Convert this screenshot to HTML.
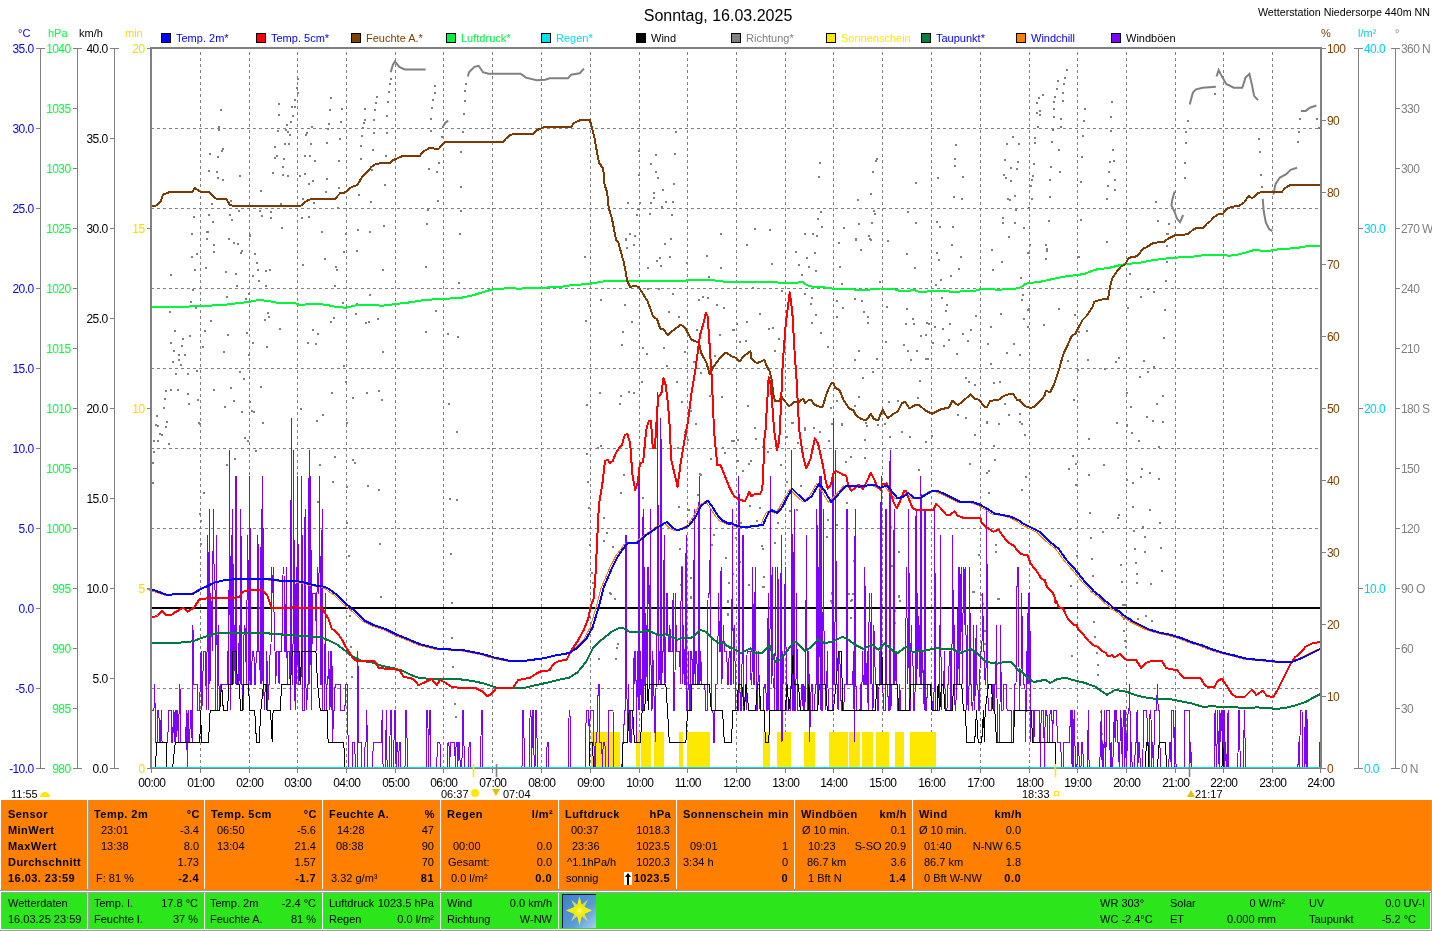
<!DOCTYPE html>
<html><head><meta charset="utf-8"><title>Wetterstation Niedersorpe</title>
<style>
html,body{margin:0;padding:0;background:#fff;}
body{width:1432px;height:931px;position:relative;overflow:hidden;}
svg text{white-space:pre;}
</style></head><body>
<svg width="1432" height="800" viewBox="0 0 1432 800" style="position:absolute;left:0;top:0">
<g font-family="'Liberation Sans', Arial, sans-serif" font-size="11">
<g stroke="#808080" stroke-width="1" stroke-dasharray="3,3" shape-rendering="crispEdges" fill="none">
<line x1="200.5" y1="52" x2="200.5" y2="767"/>
<line x1="249.5" y1="52" x2="249.5" y2="767"/>
<line x1="297.5" y1="52" x2="297.5" y2="767"/>
<line x1="346.5" y1="52" x2="346.5" y2="767"/>
<line x1="395.5" y1="52" x2="395.5" y2="767"/>
<line x1="443.5" y1="52" x2="443.5" y2="767"/>
<line x1="492.5" y1="52" x2="492.5" y2="767"/>
<line x1="541.5" y1="52" x2="541.5" y2="767"/>
<line x1="590.5" y1="52" x2="590.5" y2="767"/>
<line x1="639.5" y1="52" x2="639.5" y2="767"/>
<line x1="687.5" y1="52" x2="687.5" y2="767"/>
<line x1="736.5" y1="52" x2="736.5" y2="767"/>
<line x1="785.5" y1="52" x2="785.5" y2="767"/>
<line x1="833.5" y1="52" x2="833.5" y2="767"/>
<line x1="882.5" y1="52" x2="882.5" y2="767"/>
<line x1="931.5" y1="52" x2="931.5" y2="767"/>
<line x1="980.5" y1="52" x2="980.5" y2="767"/>
<line x1="1029.5" y1="52" x2="1029.5" y2="767"/>
<line x1="1077.5" y1="52" x2="1077.5" y2="767"/>
<line x1="1126.5" y1="52" x2="1126.5" y2="767"/>
<line x1="1175.5" y1="52" x2="1175.5" y2="767"/>
<line x1="1223.5" y1="52" x2="1223.5" y2="767"/>
<line x1="1272.5" y1="52" x2="1272.5" y2="767"/>
<line x1="151" y1="128.5" x2="1320" y2="128.5"/>
<line x1="151" y1="208.5" x2="1320" y2="208.5"/>
<line x1="151" y1="288.5" x2="1320" y2="288.5"/>
<line x1="151" y1="368.5" x2="1320" y2="368.5"/>
<line x1="151" y1="448.5" x2="1320" y2="448.5"/>
<line x1="151" y1="528.5" x2="1320" y2="528.5"/>
<line x1="151" y1="688.5" x2="1320" y2="688.5"/>
</g>
<line x1="152" y1="608" x2="1320" y2="608" stroke="#000" stroke-width="2" shape-rendering="crispEdges"/>
<rect x="591" y="732" width="29" height="35" fill="#FFE800"/>
<rect x="636" y="732" width="4" height="35" fill="#FFE800"/>
<rect x="641" y="732" width="10" height="35" fill="#FFE800"/>
<rect x="654" y="732" width="10" height="35" fill="#FFE800"/>
<rect x="679" y="732" width="4" height="35" fill="#FFE800"/>
<rect x="687" y="732" width="23" height="35" fill="#FFE800"/>
<rect x="763" y="732" width="7" height="35" fill="#FFE800"/>
<rect x="777" y="732" width="14" height="35" fill="#FFE800"/>
<rect x="804" y="732" width="11" height="35" fill="#FFE800"/>
<rect x="829" y="732" width="19" height="35" fill="#FFE800"/>
<rect x="849" y="732" width="11" height="35" fill="#FFE800"/>
<rect x="862" y="732" width="11" height="35" fill="#FFE800"/>
<rect x="876" y="732" width="13" height="35" fill="#FFE800"/>
<rect x="895" y="732" width="9" height="35" fill="#FFE800"/>
<rect x="910" y="732" width="26" height="35" fill="#FFE800"/>
<rect x="1045" y="732" width="1" height="35" fill="#FFE800"/>
<g fill="#808080">
<rect x="152" y="462" width="2" height="2"/><rect x="152" y="482" width="2" height="2"/><rect x="153" y="440" width="2" height="2"/><rect x="153" y="451" width="2" height="2"/><rect x="155" y="424" width="2" height="2"/><rect x="156" y="415" width="2" height="2"/><rect x="157" y="425" width="2" height="2"/><rect x="157" y="440" width="2" height="2"/><rect x="159" y="433" width="2" height="2"/><rect x="161" y="434" width="2" height="2"/><rect x="163" y="407" width="2" height="2"/><rect x="164" y="398" width="2" height="2"/><rect x="165" y="390" width="2" height="2"/><rect x="165" y="426" width="2" height="2"/><rect x="166" y="421" width="2" height="2"/><rect x="168" y="443" width="2" height="2"/><rect x="169" y="311" width="2" height="2"/><rect x="170" y="274" width="2" height="2"/><rect x="170" y="342" width="2" height="2"/><rect x="170" y="389" width="2" height="2"/><rect x="172" y="361" width="2" height="2"/><rect x="173" y="350" width="2" height="2"/><rect x="174" y="330" width="2" height="2"/><rect x="175" y="373" width="2" height="2"/><rect x="177" y="389" width="2" height="2"/><rect x="178" y="354" width="2" height="2"/><rect x="178" y="359" width="2" height="2"/><rect x="180" y="364" width="2" height="2"/><rect x="181" y="345" width="2" height="2"/><rect x="182" y="338" width="2" height="2"/><rect x="184" y="354" width="2" height="2"/><rect x="187" y="373" width="2" height="2"/><rect x="187" y="393" width="2" height="2"/><rect x="188" y="403" width="2" height="2"/><rect x="189" y="335" width="2" height="2"/><rect x="190" y="301" width="2" height="2"/><rect x="191" y="233" width="2" height="2"/><rect x="191" y="256" width="2" height="2"/><rect x="192" y="289" width="2" height="2"/><rect x="193" y="216" width="2" height="2"/><rect x="194" y="269" width="2" height="2"/><rect x="195" y="307" width="2" height="2"/><rect x="196" y="253" width="2" height="2"/><rect x="196" y="370" width="2" height="2"/><rect x="197" y="399" width="2" height="2"/><rect x="198" y="422" width="2" height="2"/><rect x="199" y="423" width="2" height="2"/><rect x="199" y="513" width="2" height="2"/><rect x="200" y="520" width="2" height="2"/><rect x="200" y="543" width="2" height="2"/><rect x="202" y="346" width="2" height="2"/><rect x="203" y="492" width="2" height="2"/><rect x="204" y="330" width="2" height="2"/><rect x="205" y="267" width="2" height="2"/><rect x="206" y="231" width="2" height="2"/><rect x="206" y="238" width="2" height="2"/><rect x="207" y="231" width="2" height="2"/><rect x="208" y="170" width="2" height="2"/><rect x="208" y="214" width="2" height="2"/><rect x="209" y="153" width="2" height="2"/><rect x="210" y="320" width="2" height="2"/><rect x="211" y="203" width="2" height="2"/><rect x="212" y="221" width="2" height="2"/><rect x="213" y="244" width="2" height="2"/><rect x="213" y="251" width="2" height="2"/><rect x="213" y="389" width="2" height="2"/><rect x="216" y="171" width="2" height="2"/><rect x="217" y="156" width="2" height="2"/><rect x="217" y="177" width="2" height="2"/><rect x="218" y="126" width="2" height="2"/><rect x="218" y="129" width="2" height="2"/><rect x="220" y="109" width="2" height="2"/><rect x="221" y="150" width="2" height="2"/><rect x="222" y="148" width="2" height="2"/><rect x="222" y="179" width="2" height="2"/><rect x="223" y="351" width="2" height="2"/><rect x="224" y="406" width="2" height="2"/><rect x="225" y="271" width="2" height="2"/><rect x="226" y="296" width="2" height="2"/><rect x="226" y="464" width="2" height="2"/><rect x="227" y="334" width="2" height="2"/><rect x="228" y="238" width="2" height="2"/><rect x="229" y="214" width="2" height="2"/><rect x="230" y="200" width="2" height="2"/><rect x="230" y="387" width="2" height="2"/><rect x="231" y="219" width="2" height="2"/><rect x="233" y="242" width="2" height="2"/><rect x="233" y="400" width="2" height="2"/><rect x="234" y="458" width="2" height="2"/><rect x="235" y="273" width="2" height="2"/><rect x="236" y="285" width="2" height="2"/><rect x="237" y="243" width="2" height="2"/><rect x="238" y="210" width="2" height="2"/><rect x="239" y="175" width="2" height="2"/><rect x="239" y="371" width="2" height="2"/><rect x="240" y="252" width="2" height="2"/><rect x="241" y="250" width="2" height="2"/><rect x="241" y="411" width="2" height="2"/><rect x="243" y="378" width="2" height="2"/><rect x="244" y="437" width="2" height="2"/><rect x="245" y="298" width="2" height="2"/><rect x="246" y="332" width="2" height="2"/><rect x="247" y="440" width="2" height="2"/><rect x="248" y="293" width="2" height="2"/><rect x="248" y="354" width="2" height="2"/><rect x="249" y="234" width="2" height="2"/><rect x="249" y="235" width="2" height="2"/><rect x="249" y="401" width="2" height="2"/><rect x="251" y="410" width="2" height="2"/><rect x="252" y="275" width="2" height="2"/><rect x="252" y="342" width="2" height="2"/><rect x="253" y="411" width="2" height="2"/><rect x="254" y="253" width="2" height="2"/><rect x="255" y="450" width="2" height="2"/><rect x="256" y="262" width="2" height="2"/><rect x="257" y="269" width="2" height="2"/><rect x="258" y="280" width="2" height="2"/><rect x="259" y="210" width="2" height="2"/><rect x="260" y="190" width="2" height="2"/><rect x="260" y="386" width="2" height="2"/><rect x="261" y="215" width="2" height="2"/><rect x="262" y="422" width="2" height="2"/><rect x="264" y="319" width="2" height="2"/><rect x="265" y="270" width="2" height="2"/><rect x="265" y="285" width="2" height="2"/><rect x="266" y="346" width="2" height="2"/><rect x="267" y="312" width="2" height="2"/><rect x="268" y="316" width="2" height="2"/><rect x="269" y="269" width="2" height="2"/><rect x="270" y="211" width="2" height="2"/><rect x="270" y="217" width="2" height="2"/><rect x="272" y="172" width="2" height="2"/><rect x="274" y="146" width="2" height="2"/><rect x="274" y="157" width="2" height="2"/><rect x="276" y="155" width="2" height="2"/><rect x="277" y="130" width="2" height="2"/><rect x="278" y="103" width="2" height="2"/><rect x="278" y="114" width="2" height="2"/><rect x="279" y="328" width="2" height="2"/><rect x="280" y="203" width="2" height="2"/><rect x="281" y="227" width="2" height="2"/><rect x="282" y="166" width="2" height="2"/><rect x="282" y="174" width="2" height="2"/><rect x="283" y="158" width="2" height="2"/><rect x="284" y="143" width="2" height="2"/><rect x="285" y="129" width="2" height="2"/><rect x="286" y="124" width="2" height="2"/><rect x="287" y="131" width="2" height="2"/><rect x="287" y="175" width="2" height="2"/><rect x="288" y="143" width="2" height="2"/><rect x="289" y="134" width="2" height="2"/><rect x="290" y="121" width="2" height="2"/><rect x="291" y="106" width="2" height="2"/><rect x="292" y="115" width="2" height="2"/><rect x="294" y="99" width="2" height="2"/><rect x="294" y="106" width="2" height="2"/><rect x="296" y="87" width="2" height="2"/><rect x="297" y="78" width="2" height="2"/><rect x="297" y="92" width="2" height="2"/><rect x="299" y="175" width="2" height="2"/><rect x="300" y="408" width="2" height="2"/><rect x="301" y="217" width="2" height="2"/><rect x="302" y="198" width="2" height="2"/><rect x="302" y="264" width="2" height="2"/><rect x="304" y="155" width="2" height="2"/><rect x="304" y="173" width="2" height="2"/><rect x="305" y="134" width="2" height="2"/><rect x="306" y="132" width="2" height="2"/><rect x="307" y="342" width="2" height="2"/><rect x="308" y="183" width="2" height="2"/><rect x="308" y="216" width="2" height="2"/><rect x="309" y="155" width="2" height="2"/><rect x="310" y="143" width="2" height="2"/><rect x="311" y="126" width="2" height="2"/><rect x="312" y="180" width="2" height="2"/><rect x="312" y="329" width="2" height="2"/><rect x="313" y="202" width="2" height="2"/><rect x="314" y="160" width="2" height="2"/><rect x="315" y="343" width="2" height="2"/><rect x="316" y="420" width="2" height="2"/><rect x="317" y="333" width="2" height="2"/><rect x="317" y="501" width="2" height="2"/><rect x="319" y="464" width="2" height="2"/><rect x="321" y="231" width="2" height="2"/><rect x="321" y="303" width="2" height="2"/><rect x="322" y="414" width="2" height="2"/><rect x="324" y="258" width="2" height="2"/><rect x="325" y="191" width="2" height="2"/><rect x="326" y="142" width="2" height="2"/><rect x="326" y="178" width="2" height="2"/><rect x="327" y="128" width="2" height="2"/><rect x="328" y="123" width="2" height="2"/><rect x="329" y="109" width="2" height="2"/><rect x="330" y="97" width="2" height="2"/><rect x="330" y="321" width="2" height="2"/><rect x="331" y="392" width="2" height="2"/><rect x="332" y="481" width="2" height="2"/><rect x="333" y="317" width="2" height="2"/><rect x="334" y="285" width="2" height="2"/><rect x="334" y="456" width="2" height="2"/><rect x="335" y="266" width="2" height="2"/><rect x="336" y="269" width="2" height="2"/><rect x="337" y="207" width="2" height="2"/><rect x="338" y="160" width="2" height="2"/><rect x="338" y="187" width="2" height="2"/><rect x="339" y="138" width="2" height="2"/><rect x="340" y="121" width="2" height="2"/><rect x="341" y="108" width="2" height="2"/><rect x="342" y="302" width="2" height="2"/><rect x="343" y="251" width="2" height="2"/><rect x="343" y="365" width="2" height="2"/><rect x="345" y="233" width="2" height="2"/><rect x="345" y="381" width="2" height="2"/><rect x="346" y="422" width="2" height="2"/><rect x="346" y="486" width="2" height="2"/><rect x="346" y="522" width="2" height="2"/><rect x="348" y="555" width="2" height="2"/><rect x="349" y="615" width="2" height="2"/><rect x="350" y="646" width="2" height="2"/><rect x="351" y="676" width="2" height="2"/><rect x="352" y="397" width="2" height="2"/><rect x="352" y="459" width="2" height="2"/><rect x="354" y="462" width="2" height="2"/><rect x="355" y="313" width="2" height="2"/><rect x="356" y="250" width="2" height="2"/><rect x="356" y="303" width="2" height="2"/><rect x="357" y="229" width="2" height="2"/><rect x="358" y="194" width="2" height="2"/><rect x="360" y="145" width="2" height="2"/><rect x="360" y="158" width="2" height="2"/><rect x="361" y="135" width="2" height="2"/><rect x="362" y="127" width="2" height="2"/><rect x="363" y="122" width="2" height="2"/><rect x="364" y="108" width="2" height="2"/><rect x="364" y="119" width="2" height="2"/><rect x="365" y="322" width="2" height="2"/><rect x="366" y="392" width="2" height="2"/><rect x="367" y="485" width="2" height="2"/><rect x="368" y="321" width="2" height="2"/><rect x="369" y="231" width="2" height="2"/><rect x="369" y="294" width="2" height="2"/><rect x="370" y="201" width="2" height="2"/><rect x="371" y="169" width="2" height="2"/><rect x="372" y="149" width="2" height="2"/><rect x="373" y="119" width="2" height="2"/><rect x="373" y="132" width="2" height="2"/><rect x="374" y="109" width="2" height="2"/><rect x="375" y="102" width="2" height="2"/><rect x="376" y="96" width="2" height="2"/><rect x="377" y="318" width="2" height="2"/><rect x="378" y="390" width="2" height="2"/><rect x="378" y="489" width="2" height="2"/><rect x="379" y="543" width="2" height="2"/><rect x="380" y="596" width="2" height="2"/><rect x="381" y="399" width="2" height="2"/><rect x="382" y="269" width="2" height="2"/><rect x="382" y="351" width="2" height="2"/><rect x="383" y="225" width="2" height="2"/><rect x="384" y="184" width="2" height="2"/><rect x="385" y="155" width="2" height="2"/><rect x="386" y="115" width="2" height="2"/><rect x="386" y="132" width="2" height="2"/><rect x="387" y="101" width="2" height="2"/><rect x="388" y="91" width="2" height="2"/><rect x="389" y="83" width="2" height="2"/><rect x="390" y="78" width="2" height="2"/><rect x="425" y="266" width="2" height="2"/><rect x="425" y="331" width="2" height="2"/><rect x="426" y="223" width="2" height="2"/><rect x="427" y="209" width="2" height="2"/><rect x="428" y="168" width="2" height="2"/><rect x="430" y="118" width="2" height="2"/><rect x="430" y="130" width="2" height="2"/><rect x="431" y="107" width="2" height="2"/><rect x="432" y="99" width="2" height="2"/><rect x="434" y="85" width="2" height="2"/><rect x="434" y="92" width="2" height="2"/><rect x="435" y="310" width="2" height="2"/><rect x="436" y="171" width="2" height="2"/><rect x="437" y="200" width="2" height="2"/><rect x="438" y="162" width="2" height="2"/><rect x="441" y="136" width="2" height="2"/><rect x="442" y="126" width="2" height="2"/><rect x="447" y="333" width="2" height="2"/><rect x="448" y="403" width="2" height="2"/><rect x="449" y="498" width="2" height="2"/><rect x="450" y="553" width="2" height="2"/><rect x="451" y="602" width="2" height="2"/><rect x="451" y="637" width="2" height="2"/><rect x="452" y="666" width="2" height="2"/><rect x="454" y="703" width="2" height="2"/><rect x="455" y="716" width="2" height="2"/><rect x="456" y="431" width="2" height="2"/><rect x="456" y="499" width="2" height="2"/><rect x="457" y="336" width="2" height="2"/><rect x="458" y="282" width="2" height="2"/><rect x="459" y="233" width="2" height="2"/><rect x="460" y="151" width="2" height="2"/><rect x="460" y="186" width="2" height="2"/><rect x="460" y="210" width="2" height="2"/><rect x="462" y="131" width="2" height="2"/><rect x="463" y="113" width="2" height="2"/><rect x="464" y="90" width="2" height="2"/><rect x="464" y="100" width="2" height="2"/><rect x="465" y="83" width="2" height="2"/><rect x="584" y="256" width="2" height="2"/><rect x="585" y="320" width="2" height="2"/><rect x="586" y="404" width="2" height="2"/><rect x="586" y="453" width="2" height="2"/><rect x="587" y="481" width="2" height="2"/><rect x="588" y="507" width="2" height="2"/><rect x="589" y="544" width="2" height="2"/><rect x="591" y="572" width="2" height="2"/><rect x="592" y="582" width="2" height="2"/><rect x="597" y="447" width="2" height="2"/><rect x="598" y="658" width="2" height="2"/><rect x="599" y="392" width="2" height="2"/><rect x="600" y="299" width="2" height="2"/><rect x="600" y="445" width="2" height="2"/><rect x="603" y="517" width="2" height="2"/><rect x="603" y="540" width="2" height="2"/><rect x="606" y="532" width="2" height="2"/><rect x="609" y="592" width="2" height="2"/><rect x="610" y="593" width="2" height="2"/><rect x="612" y="546" width="2" height="2"/><rect x="614" y="598" width="2" height="2"/><rect x="615" y="658" width="2" height="2"/><rect x="616" y="647" width="2" height="2"/><rect x="617" y="643" width="2" height="2"/><rect x="619" y="403" width="2" height="2"/><rect x="620" y="395" width="2" height="2"/><rect x="620" y="492" width="2" height="2"/><rect x="621" y="344" width="2" height="2"/><rect x="622" y="331" width="2" height="2"/><rect x="623" y="474" width="2" height="2"/><rect x="624" y="304" width="2" height="2"/><rect x="625" y="238" width="2" height="2"/><rect x="625" y="239" width="2" height="2"/><rect x="626" y="247" width="2" height="2"/><rect x="627" y="202" width="2" height="2"/><rect x="628" y="391" width="2" height="2"/><rect x="629" y="233" width="2" height="2"/><rect x="631" y="321" width="2" height="2"/><rect x="633" y="244" width="2" height="2"/><rect x="633" y="392" width="2" height="2"/><rect x="634" y="235" width="2" height="2"/><rect x="636" y="214" width="2" height="2"/><rect x="637" y="208" width="2" height="2"/><rect x="638" y="150" width="2" height="2"/><rect x="638" y="174" width="2" height="2"/><rect x="639" y="202" width="2" height="2"/><rect x="641" y="381" width="2" height="2"/><rect x="642" y="347" width="2" height="2"/><rect x="642" y="497" width="2" height="2"/><rect x="646" y="353" width="2" height="2"/><rect x="647" y="267" width="2" height="2"/><rect x="647" y="288" width="2" height="2"/><rect x="649" y="213" width="2" height="2"/><rect x="650" y="163" width="2" height="2"/><rect x="650" y="202" width="2" height="2"/><rect x="653" y="192" width="2" height="2"/><rect x="653" y="197" width="2" height="2"/><rect x="655" y="154" width="2" height="2"/><rect x="655" y="171" width="2" height="2"/><rect x="656" y="260" width="2" height="2"/><rect x="657" y="177" width="2" height="2"/><rect x="658" y="288" width="2" height="2"/><rect x="659" y="257" width="2" height="2"/><rect x="660" y="265" width="2" height="2"/><rect x="661" y="206" width="2" height="2"/><rect x="662" y="189" width="2" height="2"/><rect x="663" y="347" width="2" height="2"/><rect x="664" y="243" width="2" height="2"/><rect x="665" y="201" width="2" height="2"/><rect x="666" y="365" width="2" height="2"/><rect x="668" y="311" width="2" height="2"/><rect x="669" y="256" width="2" height="2"/><rect x="670" y="238" width="2" height="2"/><rect x="671" y="214" width="2" height="2"/><rect x="672" y="201" width="2" height="2"/><rect x="672" y="293" width="2" height="2"/><rect x="673" y="183" width="2" height="2"/><rect x="674" y="153" width="2" height="2"/><rect x="675" y="131" width="2" height="2"/><rect x="676" y="381" width="2" height="2"/><rect x="677" y="447" width="2" height="2"/><rect x="678" y="316" width="2" height="2"/><rect x="678" y="506" width="2" height="2"/><rect x="679" y="548" width="2" height="2"/><rect x="680" y="584" width="2" height="2"/><rect x="681" y="401" width="2" height="2"/><rect x="681" y="566" width="2" height="2"/><rect x="684" y="351" width="2" height="2"/><rect x="684" y="431" width="2" height="2"/><rect x="685" y="435" width="2" height="2"/><rect x="686" y="262" width="2" height="2"/><rect x="687" y="439" width="2" height="2"/><rect x="688" y="509" width="2" height="2"/><rect x="690" y="410" width="2" height="2"/><rect x="690" y="577" width="2" height="2"/><rect x="690" y="596" width="2" height="2"/><rect x="690" y="597" width="2" height="2"/><rect x="693" y="361" width="2" height="2"/><rect x="695" y="423" width="2" height="2"/><rect x="696" y="329" width="2" height="2"/><rect x="697" y="494" width="2" height="2"/><rect x="698" y="299" width="2" height="2"/><rect x="699" y="473" width="2" height="2"/><rect x="700" y="372" width="2" height="2"/><rect x="700" y="474" width="2" height="2"/><rect x="702" y="296" width="2" height="2"/><rect x="706" y="255" width="2" height="2"/><rect x="707" y="297" width="2" height="2"/><rect x="708" y="276" width="2" height="2"/><rect x="709" y="395" width="2" height="2"/><rect x="710" y="458" width="2" height="2"/><rect x="711" y="544" width="2" height="2"/><rect x="713" y="534" width="2" height="2"/><rect x="714" y="355" width="2" height="2"/><rect x="716" y="304" width="2" height="2"/><rect x="719" y="334" width="2" height="2"/><rect x="720" y="233" width="2" height="2"/><rect x="720" y="267" width="2" height="2"/><rect x="721" y="396" width="2" height="2"/><rect x="722" y="447" width="2" height="2"/><rect x="723" y="307" width="2" height="2"/><rect x="724" y="452" width="2" height="2"/><rect x="725" y="557" width="2" height="2"/><rect x="727" y="600" width="2" height="2"/><rect x="727" y="601" width="2" height="2"/><rect x="727" y="613" width="2" height="2"/><rect x="727" y="614" width="2" height="2"/><rect x="728" y="582" width="2" height="2"/><rect x="731" y="440" width="2" height="2"/><rect x="732" y="329" width="2" height="2"/><rect x="732" y="440" width="2" height="2"/><rect x="732" y="573" width="2" height="2"/><rect x="733" y="329" width="2" height="2"/><rect x="733" y="440" width="2" height="2"/><rect x="735" y="537" width="2" height="2"/><rect x="736" y="323" width="2" height="2"/><rect x="737" y="439" width="2" height="2"/><rect x="737" y="460" width="2" height="2"/><rect x="739" y="341" width="2" height="2"/><rect x="739" y="561" width="2" height="2"/><rect x="740" y="522" width="2" height="2"/><rect x="742" y="470" width="2" height="2"/><rect x="745" y="340" width="2" height="2"/><rect x="746" y="244" width="2" height="2"/><rect x="746" y="321" width="2" height="2"/><rect x="747" y="405" width="2" height="2"/><rect x="748" y="463" width="2" height="2"/><rect x="748" y="584" width="2" height="2"/><rect x="749" y="505" width="2" height="2"/><rect x="750" y="460" width="2" height="2"/><rect x="752" y="287" width="2" height="2"/><rect x="754" y="228" width="2" height="2"/><rect x="754" y="427" width="2" height="2"/><rect x="755" y="438" width="2" height="2"/><rect x="756" y="520" width="2" height="2"/><rect x="759" y="313" width="2" height="2"/><rect x="759" y="507" width="2" height="2"/><rect x="761" y="545" width="2" height="2"/><rect x="762" y="446" width="2" height="2"/><rect x="762" y="548" width="2" height="2"/><rect x="762" y="586" width="2" height="2"/><rect x="763" y="576" width="2" height="2"/><rect x="763" y="586" width="2" height="2"/><rect x="767" y="451" width="2" height="2"/><rect x="768" y="328" width="2" height="2"/><rect x="769" y="229" width="2" height="2"/><rect x="771" y="263" width="2" height="2"/><rect x="772" y="327" width="2" height="2"/><rect x="774" y="350" width="2" height="2"/><rect x="774" y="542" width="2" height="2"/><rect x="777" y="522" width="2" height="2"/><rect x="778" y="338" width="2" height="2"/><rect x="780" y="464" width="2" height="2"/><rect x="781" y="290" width="2" height="2"/><rect x="786" y="436" width="2" height="2"/><rect x="786" y="481" width="2" height="2"/><rect x="789" y="510" width="2" height="2"/><rect x="791" y="422" width="2" height="2"/><rect x="792" y="422" width="2" height="2"/><rect x="795" y="251" width="2" height="2"/><rect x="796" y="509" width="2" height="2"/><rect x="797" y="442" width="2" height="2"/><rect x="798" y="264" width="2" height="2"/><rect x="800" y="485" width="2" height="2"/><rect x="801" y="274" width="2" height="2"/><rect x="804" y="233" width="2" height="2"/><rect x="804" y="293" width="2" height="2"/><rect x="804" y="427" width="2" height="2"/><rect x="804" y="429" width="2" height="2"/><rect x="806" y="257" width="2" height="2"/><rect x="808" y="266" width="2" height="2"/><rect x="810" y="303" width="2" height="2"/><rect x="811" y="297" width="2" height="2"/><rect x="811" y="322" width="2" height="2"/><rect x="812" y="233" width="2" height="2"/><rect x="813" y="427" width="2" height="2"/><rect x="814" y="252" width="2" height="2"/><rect x="815" y="270" width="2" height="2"/><rect x="815" y="314" width="2" height="2"/><rect x="816" y="235" width="2" height="2"/><rect x="817" y="218" width="2" height="2"/><rect x="818" y="176" width="2" height="2"/><rect x="819" y="162" width="2" height="2"/><rect x="819" y="431" width="2" height="2"/><rect x="820" y="211" width="2" height="2"/><rect x="820" y="332" width="2" height="2"/><rect x="821" y="226" width="2" height="2"/><rect x="826" y="536" width="2" height="2"/><rect x="827" y="346" width="2" height="2"/><rect x="827" y="519" width="2" height="2"/><rect x="828" y="440" width="2" height="2"/><rect x="830" y="407" width="2" height="2"/><rect x="830" y="600" width="2" height="2"/><rect x="831" y="423" width="2" height="2"/><rect x="831" y="592" width="2" height="2"/><rect x="831" y="593" width="2" height="2"/><rect x="831" y="602" width="2" height="2"/><rect x="836" y="300" width="2" height="2"/><rect x="836" y="316" width="2" height="2"/><rect x="836" y="400" width="2" height="2"/><rect x="836" y="524" width="2" height="2"/><rect x="838" y="242" width="2" height="2"/><rect x="839" y="266" width="2" height="2"/><rect x="841" y="283" width="2" height="2"/><rect x="841" y="423" width="2" height="2"/><rect x="841" y="424" width="2" height="2"/><rect x="842" y="307" width="2" height="2"/><rect x="843" y="227" width="2" height="2"/><rect x="845" y="461" width="2" height="2"/><rect x="846" y="502" width="2" height="2"/><rect x="846" y="550" width="2" height="2"/><rect x="846" y="555" width="2" height="2"/><rect x="848" y="593" width="2" height="2"/><rect x="850" y="456" width="2" height="2"/><rect x="850" y="600" width="2" height="2"/><rect x="850" y="617" width="2" height="2"/><rect x="851" y="599" width="2" height="2"/><rect x="852" y="593" width="2" height="2"/><rect x="853" y="560" width="2" height="2"/><rect x="854" y="298" width="2" height="2"/><rect x="854" y="359" width="2" height="2"/><rect x="854" y="405" width="2" height="2"/><rect x="855" y="238" width="2" height="2"/><rect x="855" y="239" width="2" height="2"/><rect x="857" y="199" width="2" height="2"/><rect x="858" y="223" width="2" height="2"/><rect x="858" y="350" width="2" height="2"/><rect x="858" y="396" width="2" height="2"/><rect x="860" y="249" width="2" height="2"/><rect x="861" y="300" width="2" height="2"/><rect x="862" y="377" width="2" height="2"/><rect x="863" y="311" width="2" height="2"/><rect x="864" y="439" width="2" height="2"/><rect x="864" y="457" width="2" height="2"/><rect x="865" y="422" width="2" height="2"/><rect x="866" y="425" width="2" height="2"/><rect x="867" y="316" width="2" height="2"/><rect x="867" y="322" width="2" height="2"/><rect x="868" y="235" width="2" height="2"/><rect x="869" y="238" width="2" height="2"/><rect x="870" y="193" width="2" height="2"/><rect x="870" y="239" width="2" height="2"/><rect x="871" y="222" width="2" height="2"/><rect x="872" y="171" width="2" height="2"/><rect x="872" y="371" width="2" height="2"/><rect x="873" y="210" width="2" height="2"/><rect x="874" y="213" width="2" height="2"/><rect x="875" y="160" width="2" height="2"/><rect x="876" y="158" width="2" height="2"/><rect x="876" y="358" width="2" height="2"/><rect x="877" y="424" width="2" height="2"/><rect x="879" y="281" width="2" height="2"/><rect x="882" y="533" width="2" height="2"/><rect x="884" y="423" width="2" height="2"/><rect x="885" y="341" width="2" height="2"/><rect x="886" y="306" width="2" height="2"/><rect x="887" y="240" width="2" height="2"/><rect x="888" y="401" width="2" height="2"/><rect x="889" y="436" width="2" height="2"/><rect x="889" y="571" width="2" height="2"/><rect x="890" y="526" width="2" height="2"/><rect x="891" y="565" width="2" height="2"/><rect x="893" y="611" width="2" height="2"/><rect x="894" y="610" width="2" height="2"/><rect x="894" y="622" width="2" height="2"/><rect x="897" y="400" width="2" height="2"/><rect x="898" y="551" width="2" height="2"/><rect x="898" y="595" width="2" height="2"/><rect x="898" y="596" width="2" height="2"/><rect x="899" y="600" width="2" height="2"/><rect x="901" y="431" width="2" height="2"/><rect x="903" y="344" width="2" height="2"/><rect x="905" y="323" width="2" height="2"/><rect x="906" y="253" width="2" height="2"/><rect x="906" y="308" width="2" height="2"/><rect x="907" y="211" width="2" height="2"/><rect x="907" y="350" width="2" height="2"/><rect x="909" y="436" width="2" height="2"/><rect x="910" y="359" width="2" height="2"/><rect x="912" y="318" width="2" height="2"/><rect x="913" y="323" width="2" height="2"/><rect x="914" y="267" width="2" height="2"/><rect x="915" y="182" width="2" height="2"/><rect x="915" y="222" width="2" height="2"/><rect x="916" y="350" width="2" height="2"/><rect x="917" y="397" width="2" height="2"/><rect x="918" y="469" width="2" height="2"/><rect x="919" y="380" width="2" height="2"/><rect x="920" y="335" width="2" height="2"/><rect x="925" y="334" width="2" height="2"/><rect x="925" y="358" width="2" height="2"/><rect x="925" y="441" width="2" height="2"/><rect x="926" y="322" width="2" height="2"/><rect x="927" y="358" width="2" height="2"/><rect x="928" y="323" width="2" height="2"/><rect x="931" y="435" width="2" height="2"/><rect x="932" y="342" width="2" height="2"/><rect x="934" y="326" width="2" height="2"/><rect x="935" y="284" width="2" height="2"/><rect x="936" y="221" width="2" height="2"/><rect x="936" y="252" width="2" height="2"/><rect x="937" y="177" width="2" height="2"/><rect x="938" y="259" width="2" height="2"/><rect x="939" y="226" width="2" height="2"/><rect x="940" y="279" width="2" height="2"/><rect x="941" y="297" width="2" height="2"/><rect x="942" y="328" width="2" height="2"/><rect x="943" y="345" width="2" height="2"/><rect x="945" y="310" width="2" height="2"/><rect x="946" y="304" width="2" height="2"/><rect x="948" y="339" width="2" height="2"/><rect x="949" y="323" width="2" height="2"/><rect x="950" y="275" width="2" height="2"/><rect x="951" y="244" width="2" height="2"/><rect x="952" y="226" width="2" height="2"/><rect x="953" y="196" width="2" height="2"/><rect x="954" y="158" width="2" height="2"/><rect x="954" y="165" width="2" height="2"/><rect x="955" y="144" width="2" height="2"/><rect x="956" y="353" width="2" height="2"/><rect x="957" y="414" width="2" height="2"/><rect x="958" y="268" width="2" height="2"/><rect x="960" y="256" width="2" height="2"/><rect x="961" y="198" width="2" height="2"/><rect x="962" y="176" width="2" height="2"/><rect x="962" y="333" width="2" height="2"/><rect x="965" y="377" width="2" height="2"/><rect x="965" y="417" width="2" height="2"/><rect x="967" y="340" width="2" height="2"/><rect x="968" y="381" width="2" height="2"/><rect x="969" y="463" width="2" height="2"/><rect x="970" y="329" width="2" height="2"/><rect x="972" y="591" width="2" height="2"/><rect x="973" y="591" width="2" height="2"/><rect x="974" y="384" width="2" height="2"/><rect x="974" y="434" width="2" height="2"/><rect x="975" y="315" width="2" height="2"/><rect x="978" y="554" width="2" height="2"/><rect x="980" y="594" width="2" height="2"/><rect x="982" y="603" width="2" height="2"/><rect x="984" y="630" width="2" height="2"/><rect x="984" y="643" width="2" height="2"/><rect x="984" y="671" width="2" height="2"/><rect x="986" y="421" width="2" height="2"/><rect x="986" y="422" width="2" height="2"/><rect x="986" y="472" width="2" height="2"/><rect x="987" y="343" width="2" height="2"/><rect x="988" y="470" width="2" height="2"/><rect x="988" y="492" width="2" height="2"/><rect x="990" y="326" width="2" height="2"/><rect x="990" y="363" width="2" height="2"/><rect x="991" y="249" width="2" height="2"/><rect x="992" y="269" width="2" height="2"/><rect x="993" y="382" width="2" height="2"/><rect x="993" y="445" width="2" height="2"/><rect x="994" y="459" width="2" height="2"/><rect x="995" y="544" width="2" height="2"/><rect x="995" y="551" width="2" height="2"/><rect x="997" y="598" width="2" height="2"/><rect x="998" y="423" width="2" height="2"/><rect x="998" y="598" width="2" height="2"/><rect x="999" y="381" width="2" height="2"/><rect x="1000" y="313" width="2" height="2"/><rect x="1001" y="261" width="2" height="2"/><rect x="1002" y="217" width="2" height="2"/><rect x="1002" y="222" width="2" height="2"/><rect x="1003" y="174" width="2" height="2"/><rect x="1004" y="159" width="2" height="2"/><rect x="1004" y="403" width="2" height="2"/><rect x="1005" y="177" width="2" height="2"/><rect x="1006" y="143" width="2" height="2"/><rect x="1006" y="352" width="2" height="2"/><rect x="1007" y="198" width="2" height="2"/><rect x="1008" y="236" width="2" height="2"/><rect x="1008" y="414" width="2" height="2"/><rect x="1009" y="199" width="2" height="2"/><rect x="1010" y="167" width="2" height="2"/><rect x="1010" y="180" width="2" height="2"/><rect x="1012" y="136" width="2" height="2"/><rect x="1013" y="343" width="2" height="2"/><rect x="1014" y="195" width="2" height="2"/><rect x="1014" y="222" width="2" height="2"/><rect x="1015" y="209" width="2" height="2"/><rect x="1016" y="168" width="2" height="2"/><rect x="1017" y="161" width="2" height="2"/><rect x="1018" y="143" width="2" height="2"/><rect x="1019" y="354" width="2" height="2"/><rect x="1019" y="413" width="2" height="2"/><rect x="1019" y="421" width="2" height="2"/><rect x="1020" y="277" width="2" height="2"/><rect x="1021" y="299" width="2" height="2"/><rect x="1021" y="423" width="2" height="2"/><rect x="1021" y="489" width="2" height="2"/><rect x="1022" y="294" width="2" height="2"/><rect x="1023" y="227" width="2" height="2"/><rect x="1023" y="318" width="2" height="2"/><rect x="1024" y="434" width="2" height="2"/><rect x="1025" y="476" width="2" height="2"/><rect x="1027" y="252" width="2" height="2"/><rect x="1027" y="309" width="2" height="2"/><rect x="1027" y="326" width="2" height="2"/><rect x="1028" y="207" width="2" height="2"/><rect x="1028" y="252" width="2" height="2"/><rect x="1028" y="308" width="2" height="2"/><rect x="1029" y="244" width="2" height="2"/><rect x="1030" y="185" width="2" height="2"/><rect x="1031" y="179" width="2" height="2"/><rect x="1031" y="198" width="2" height="2"/><rect x="1032" y="175" width="2" height="2"/><rect x="1033" y="163" width="2" height="2"/><rect x="1034" y="137" width="2" height="2"/><rect x="1034" y="142" width="2" height="2"/><rect x="1036" y="102" width="2" height="2"/><rect x="1036" y="112" width="2" height="2"/><rect x="1037" y="126" width="2" height="2"/><rect x="1038" y="97" width="2" height="2"/><rect x="1039" y="110" width="2" height="2"/><rect x="1039" y="114" width="2" height="2"/><rect x="1042" y="94" width="2" height="2"/><rect x="1043" y="324" width="2" height="2"/><rect x="1045" y="244" width="2" height="2"/><rect x="1045" y="258" width="2" height="2"/><rect x="1046" y="248" width="2" height="2"/><rect x="1046" y="250" width="2" height="2"/><rect x="1048" y="220" width="2" height="2"/><rect x="1049" y="179" width="2" height="2"/><rect x="1049" y="196" width="2" height="2"/><rect x="1050" y="166" width="2" height="2"/><rect x="1051" y="141" width="2" height="2"/><rect x="1052" y="129" width="2" height="2"/><rect x="1053" y="101" width="2" height="2"/><rect x="1053" y="108" width="2" height="2"/><rect x="1053" y="116" width="2" height="2"/><rect x="1054" y="96" width="2" height="2"/><rect x="1056" y="88" width="2" height="2"/><rect x="1057" y="80" width="2" height="2"/><rect x="1058" y="149" width="2" height="2"/><rect x="1058" y="308" width="2" height="2"/><rect x="1059" y="171" width="2" height="2"/><rect x="1060" y="118" width="2" height="2"/><rect x="1060" y="126" width="2" height="2"/><rect x="1062" y="92" width="2" height="2"/><rect x="1062" y="100" width="2" height="2"/><rect x="1063" y="83" width="2" height="2"/><rect x="1064" y="77" width="2" height="2"/><rect x="1066" y="69" width="2" height="2"/><rect x="1067" y="360" width="2" height="2"/><rect x="1068" y="468" width="2" height="2"/><rect x="1069" y="528" width="2" height="2"/><rect x="1070" y="585" width="2" height="2"/><rect x="1071" y="655" width="2" height="2"/><rect x="1072" y="455" width="2" height="2"/><rect x="1073" y="399" width="2" height="2"/><rect x="1074" y="314" width="2" height="2"/><rect x="1075" y="463" width="2" height="2"/><rect x="1075" y="484" width="2" height="2"/><rect x="1076" y="555" width="2" height="2"/><rect x="1077" y="369" width="2" height="2"/><rect x="1078" y="256" width="2" height="2"/><rect x="1078" y="331" width="2" height="2"/><rect x="1080" y="181" width="2" height="2"/><rect x="1080" y="219" width="2" height="2"/><rect x="1081" y="156" width="2" height="2"/><rect x="1082" y="135" width="2" height="2"/><rect x="1083" y="120" width="2" height="2"/><rect x="1084" y="108" width="2" height="2"/><rect x="1086" y="330" width="2" height="2"/><rect x="1087" y="359" width="2" height="2"/><rect x="1088" y="438" width="2" height="2"/><rect x="1088" y="474" width="2" height="2"/><rect x="1089" y="512" width="2" height="2"/><rect x="1090" y="537" width="2" height="2"/><rect x="1091" y="558" width="2" height="2"/><rect x="1092" y="575" width="2" height="2"/><rect x="1093" y="621" width="2" height="2"/><rect x="1094" y="636" width="2" height="2"/><rect x="1096" y="652" width="2" height="2"/><rect x="1097" y="664" width="2" height="2"/><rect x="1097" y="674" width="2" height="2"/><rect x="1100" y="711" width="2" height="2"/><rect x="1100" y="721" width="2" height="2"/><rect x="1101" y="733" width="2" height="2"/><rect x="1101" y="740" width="2" height="2"/><rect x="1102" y="531" width="2" height="2"/><rect x="1103" y="464" width="2" height="2"/><rect x="1104" y="368" width="2" height="2"/><rect x="1106" y="198" width="2" height="2"/><rect x="1106" y="241" width="2" height="2"/><rect x="1107" y="185" width="2" height="2"/><rect x="1108" y="171" width="2" height="2"/><rect x="1109" y="161" width="2" height="2"/><rect x="1110" y="116" width="2" height="2"/><rect x="1110" y="130" width="2" height="2"/><rect x="1111" y="101" width="2" height="2"/><rect x="1112" y="149" width="2" height="2"/><rect x="1113" y="160" width="2" height="2"/><rect x="1114" y="179" width="2" height="2"/><rect x="1114" y="189" width="2" height="2"/><rect x="1115" y="361" width="2" height="2"/><rect x="1116" y="422" width="2" height="2"/><rect x="1117" y="517" width="2" height="2"/><rect x="1118" y="357" width="2" height="2"/><rect x="1118" y="514" width="2" height="2"/><rect x="1120" y="564" width="2" height="2"/><rect x="1121" y="581" width="2" height="2"/><rect x="1122" y="604" width="2" height="2"/><rect x="1123" y="618" width="2" height="2"/><rect x="1123" y="630" width="2" height="2"/><rect x="1124" y="604" width="2" height="2"/><rect x="1124" y="640" width="2" height="2"/><rect x="1125" y="646" width="2" height="2"/><rect x="1126" y="392" width="2" height="2"/><rect x="1126" y="424" width="2" height="2"/><rect x="1126" y="425" width="2" height="2"/><rect x="1126" y="479" width="2" height="2"/><rect x="1127" y="307" width="2" height="2"/><rect x="1129" y="273" width="2" height="2"/><rect x="1130" y="406" width="2" height="2"/><rect x="1131" y="432" width="2" height="2"/><rect x="1132" y="482" width="2" height="2"/><rect x="1132" y="506" width="2" height="2"/><rect x="1133" y="530" width="2" height="2"/><rect x="1134" y="548" width="2" height="2"/><rect x="1135" y="562" width="2" height="2"/><rect x="1136" y="573" width="2" height="2"/><rect x="1136" y="582" width="2" height="2"/><rect x="1137" y="618" width="2" height="2"/><rect x="1138" y="440" width="2" height="2"/><rect x="1139" y="376" width="2" height="2"/><rect x="1140" y="296" width="2" height="2"/><rect x="1140" y="476" width="2" height="2"/><rect x="1141" y="468" width="2" height="2"/><rect x="1142" y="526" width="2" height="2"/><rect x="1143" y="360" width="2" height="2"/><rect x="1144" y="536" width="2" height="2"/><rect x="1144" y="551" width="2" height="2"/><rect x="1145" y="615" width="2" height="2"/><rect x="1146" y="416" width="2" height="2"/><rect x="1147" y="288" width="2" height="2"/><rect x="1147" y="371" width="2" height="2"/><rect x="1149" y="472" width="2" height="2"/><rect x="1149" y="509" width="2" height="2"/><rect x="1150" y="583" width="2" height="2"/><rect x="1151" y="620" width="2" height="2"/><rect x="1152" y="420" width="2" height="2"/><rect x="1153" y="291" width="2" height="2"/><rect x="1153" y="366" width="2" height="2"/><rect x="1155" y="201" width="2" height="2"/><rect x="1156" y="403" width="2" height="2"/><rect x="1157" y="220" width="2" height="2"/><rect x="1158" y="446" width="2" height="2"/><rect x="1158" y="478" width="2" height="2"/><rect x="1159" y="522" width="2" height="2"/><rect x="1160" y="547" width="2" height="2"/><rect x="1161" y="570" width="2" height="2"/><rect x="1162" y="395" width="2" height="2"/><rect x="1162" y="421" width="2" height="2"/><rect x="1163" y="337" width="2" height="2"/><rect x="1164" y="309" width="2" height="2"/><rect x="1165" y="280" width="2" height="2"/><rect x="1166" y="233" width="2" height="2"/><rect x="1166" y="245" width="2" height="2"/><rect x="1166" y="261" width="2" height="2"/><rect x="1167" y="233" width="2" height="2"/><rect x="1168" y="223" width="2" height="2"/><rect x="1184" y="162" width="2" height="2"/><rect x="1184" y="177" width="2" height="2"/><rect x="1185" y="131" width="2" height="2"/><rect x="1185" y="142" width="2" height="2"/><rect x="1187" y="120" width="2" height="2"/><rect x="1214" y="93" width="2" height="2"/><rect x="1258" y="138" width="2" height="2"/><rect x="1259" y="151" width="2" height="2"/><rect x="1260" y="174" width="2" height="2"/><rect x="1261" y="186" width="2" height="2"/><rect x="1297" y="141" width="2" height="2"/><rect x="1298" y="131" width="2" height="2"/><rect x="1299" y="118" width="2" height="2"/><rect x="1316" y="118" width="2" height="2"/><rect x="1318" y="127" width="2" height="2"/>
</g>
<polyline points="390.7,72.2 392.9,64.7 395.0,61.5 399.3,66.9 404.7,69.4 425.7,69.4" fill="none" stroke="#808080" stroke-width="2"/>
<polyline points="443.2,126.0 445.4,122.7 448.2,120.6" fill="none" stroke="#808080" stroke-width="2"/>
<polyline points="467.9,76.5 469.0,72.2 474.4,66.9 478.7,65.8 483.0,72.2 488.4,73.7 520.6,73.7 526.0,77.6 536.7,80.2 545.3,79.8 549.6,78.3 567.9,78.3 571.1,74.8 579.7,73.3 584.0,68.6" fill="none" stroke="#808080" stroke-width="2"/>
<polyline points="1189.7,104.4 1192.9,92.6 1196.1,89.4 1202.6,87.7 1215.9,86.8" fill="none" stroke="#808080" stroke-width="2"/>
<polyline points="1216.5,76.5 1218.7,70.1 1220.8,74.4 1226.2,84.0 1233.7,87.7 1242.3,87.7 1245.5,77.6 1249.4,73.9 1252.0,85.1 1254.1,95.8 1258.0,100.1" fill="none" stroke="#808080" stroke-width="2"/>
<polyline points="1300.9,110.9 1305.7,110.9 1309.9,107.7 1316.4,105.5" fill="none" stroke="#808080" stroke-width="2"/>
<polyline points="1273.4,194.6 1275.6,183.9 1279.9,177.5 1286.3,174.2 1290.6,169.9 1297.1,167.8" fill="none" stroke="#808080" stroke-width="2"/>
<polyline points="1262.7,198.9 1263.8,211.8 1265.9,222.6 1269.1,229.0 1272.4,231.2" fill="none" stroke="#808080" stroke-width="2"/>
<polyline points="1174.6,191.4 1172.5,198.9 1171.4,205.4 1174.6,211.8 1176.8,218.3 1180.0,222.1 1183.2,215.0" fill="none" stroke="#808080" stroke-width="2"/>
<polyline points="151.50,710 152.31,710 153.12,710 153.94,710 154.75,684 155.56,742 156.38,742 157.19,742 158.00,710 158.81,710 159.62,742 160.44,742 161.25,710 162.06,742 162.88,742 163.69,742 164.50,742 165.31,742 166.12,742 166.94,742 167.75,742 168.56,710 169.38,710 170.19,710 171.00,710 171.81,742 172.62,742 173.44,710 174.25,742 175.06,710 175.88,742 176.69,710 177.50,710 178.31,742 179.12,710 179.94,684 180.75,742 181.56,742 182.38,742 183.19,742 184.00,742 184.81,742 185.62,742 186.44,710 187.25,767 188.06,710 188.88,742 189.69,742 190.50,710 191.31,710 192.12,742 192.94,625 193.75,684 194.56,684 195.38,684 196.19,684 197.00,684 197.81,710 198.62,710 199.44,710 200.25,684 201.06,651 201.88,710 202.69,684 203.50,651 204.31,651 205.12,651 205.94,684 206.75,710 207.56,535 208.38,710 209.19,509 210.00,684 210.81,593 211.62,625 212.44,651 213.25,509 214.06,567 214.88,567 215.69,710 216.50,535 217.31,710 218.12,625 218.94,684 219.75,710 220.56,684 221.38,684 222.19,684 223.00,684 223.81,684 224.62,684 225.44,684 226.25,684 227.06,684 227.88,651 228.69,684 229.50,450 230.31,710 231.12,535 231.94,684 232.75,509 233.56,684 234.38,625 235.19,684 236.00,476 236.81,684 237.62,684 238.44,684 239.25,625 240.06,684 240.88,509 241.69,684 242.50,684 243.31,710 244.12,625 244.94,625 245.75,651 246.56,684 247.38,535 248.19,567 249.00,684 249.81,476 250.62,684 251.44,684 252.25,651 253.06,651 253.88,651 254.69,684 255.50,684 256.31,651 257.12,651 257.94,535 258.75,651 259.56,651 260.38,684 261.19,509 262.00,684 262.81,476 263.62,684 264.44,710 265.25,684 266.06,684 266.88,651 267.69,710 268.50,684 269.31,684 270.12,651 270.94,651 271.75,567 272.56,593 273.38,567 274.19,625 275.00,651 275.81,684 276.62,651 277.44,651 278.25,651 279.06,684 279.88,651 280.69,651 281.50,651 282.31,625 283.12,567 283.94,567 284.75,651 285.56,651 286.38,567 287.19,684 288.00,651 288.81,651 289.62,651 290.44,710 291.25,418 292.06,684 292.88,684 293.69,450 294.50,684 295.31,710 296.12,567 296.94,684 297.75,476 298.56,684 299.38,684 300.19,684 301.00,684 301.81,476 302.62,710 303.44,710 304.25,710 305.06,509 305.88,684 306.69,710 307.50,684 308.31,684 309.12,450 309.94,684 310.75,476 311.56,710 312.38,593 313.19,593 314.00,593 314.81,593 315.62,593 316.44,651 317.25,567 318.06,593 318.88,593 319.69,476 320.50,684 321.31,684 322.12,509 322.94,710 323.75,710 324.56,710 325.38,593 326.19,710 327.00,684 327.81,684 328.62,651 329.44,710 330.25,651 331.06,710 331.88,651 332.69,742 333.50,710 334.31,710 335.12,684 335.94,684 336.75,684 337.56,684 338.38,684 339.19,684 340.00,684 340.81,710 341.62,710 342.44,710 343.25,710 344.06,710 344.88,710 345.69,684 346.50,684 347.31,684 348.12,742 348.94,767 349.75,767 350.56,767 351.38,767 352.19,767 353.00,742 353.81,742 354.62,742 355.44,767 356.25,767 357.06,767 357.88,651 358.69,742 359.50,742 360.31,742 361.12,742 361.94,767 362.75,767 363.56,767 364.38,767 365.19,742 366.00,742 366.81,710 367.62,767 368.44,767 369.25,767 370.06,767 370.88,767 371.69,767 372.50,767 373.31,742 374.12,742 374.94,742 375.75,742 376.56,742 377.38,742 378.19,742 379.00,742 379.81,742 380.62,742 381.44,742 382.25,710 383.06,767 383.88,767 384.69,767 385.50,767 386.31,710 387.12,767 387.94,767 388.75,767 389.56,767 390.38,710 391.19,710 392.00,767 392.81,767 393.62,767 394.44,710 395.25,710 396.06,767 396.88,742 397.69,742 398.50,767 399.31,742 400.12,742 400.94,767 401.75,767 402.56,767 403.38,767 404.19,767 405.00,767 405.81,710 406.62,710 407.44,767 408.25,767 409.06,767 409.88,767 410.69,767 411.50,767 412.31,767 413.12,767 413.94,767 414.75,767 415.56,767 416.38,767 417.19,767 418.00,767 418.81,767 419.62,767 420.44,767 421.25,767 422.06,767 422.88,767 423.69,767 424.50,767 425.31,767 426.12,767 426.94,710 427.75,710 428.56,767 429.38,710 430.19,710 431.00,767 431.81,767 432.62,767 433.44,767 434.25,767 435.06,767 435.88,767 436.69,767 437.50,742 438.31,742 439.12,742 439.94,742 440.75,767 441.56,767 442.38,767 443.19,767 444.00,767 444.81,767 445.62,767 446.44,767 447.25,767 448.06,742 448.88,742 449.69,767 450.50,742 451.31,742 452.12,742 452.94,742 453.75,742 454.56,742 455.38,767 456.19,742 457.00,742 457.81,767 458.62,742 459.44,742 460.25,767 461.06,767 461.88,767 462.69,710 463.50,710 464.31,767 465.12,767 465.94,767 466.75,767 467.56,767 468.38,767 469.19,742 470.00,742 470.81,767 471.62,767 472.44,767 473.25,767 474.06,767 474.88,767 475.69,767 476.50,767 477.31,767 478.12,767 478.94,767 479.75,767 480.56,767 481.38,710 482.19,710 483.00,767 483.81,767 484.62,767 485.44,767 486.25,767 487.06,767 487.88,767 488.69,767 489.50,767 490.31,767 491.12,767 491.94,767 492.75,767 493.56,767 494.38,767 495.19,767 496.00,767 496.81,767 497.62,767 498.44,767 499.25,767 500.06,767 500.88,767 501.69,767 502.50,767 503.31,767 504.12,767 504.94,767 505.75,767 506.56,767 507.38,767 508.19,767 509.00,767 509.81,767 510.62,767 511.44,767 512.25,767 513.06,767 513.88,767 514.69,767 515.50,767 516.31,767 517.12,767 517.94,767 518.75,767 519.56,767 520.38,767 521.19,767 522.00,767 522.81,710 523.62,710 524.44,767 525.25,767 526.06,767 526.88,767 527.69,767 528.50,767 529.31,767 530.12,710 530.94,710 531.75,767 532.56,710 533.38,710 534.19,767 535.00,767 535.81,710 536.62,710 537.44,767 538.25,767 539.06,767 539.88,767 540.69,767 541.50,767 542.31,767 543.12,767 543.94,767 544.75,767 545.56,767 546.38,767 547.19,742 548.00,742 548.81,767 549.62,767 550.44,767 551.25,767 552.06,767 552.88,767 553.69,767 554.50,767 555.31,767 556.12,767 556.94,767 557.75,767 558.56,767 559.38,767 560.19,767 561.00,767 561.81,767 562.62,767 563.44,767 564.25,767 565.06,767 565.88,767 566.69,767 567.50,767 568.31,767 569.12,710 569.94,710 570.75,767 571.56,767 572.38,767 573.19,767 574.00,767 574.81,767 575.62,767 576.44,767 577.25,767 578.06,767 578.88,767 579.69,767 580.50,767 581.31,767 582.12,767 582.94,767 583.75,767 584.56,767 585.38,767 586.19,710 587.00,710 587.81,710 588.62,710 589.44,742 590.25,710 591.06,710 591.88,710 592.69,710 593.50,710 594.31,767 595.12,767 595.94,742 596.75,742 597.56,710 598.38,684 599.19,684 600.00,742 600.81,742 601.62,742 602.44,767 603.25,742 604.06,742 604.88,742 605.69,767 606.50,767 607.31,767 608.12,767 608.94,710 609.75,710 610.56,710 611.38,710 612.19,710 613.00,710 613.81,767 614.62,767 615.44,767 616.25,767 617.06,767 617.88,767 618.69,767 619.50,767 620.31,767 621.12,767 621.94,767 622.75,742 623.56,742 624.38,710 625.19,710 626.00,535 626.81,684 627.62,742 628.44,684 629.25,742 630.06,710 630.88,742 631.69,742 632.50,710 633.31,710 634.12,651 634.94,684 635.75,651 636.56,742 637.38,651 638.19,710 639.00,476 639.81,710 640.62,651 641.44,710 642.25,710 643.06,509 643.88,710 644.69,567 645.50,684 646.31,625 647.12,684 647.94,567 648.75,567 649.56,684 650.38,509 651.19,710 652.00,710 652.81,651 653.62,684 654.44,710 655.25,742 656.06,684 656.88,684 657.69,392 658.50,684 659.31,651 660.12,684 660.94,418 661.75,684 662.56,651 663.38,651 664.19,535 665.00,684 665.81,651 666.62,593 667.44,593 668.25,651 669.06,651 669.88,625 670.69,651 671.50,651 672.31,651 673.12,593 673.94,710 674.75,710 675.56,593 676.38,651 677.19,651 678.00,651 678.81,651 679.62,651 680.44,684 681.25,567 682.06,567 682.88,684 683.69,625 684.50,684 685.31,684 686.12,535 686.94,710 687.75,710 688.56,651 689.38,710 690.19,710 691.00,651 691.81,651 692.62,684 693.44,684 694.25,509 695.06,684 695.88,651 696.69,651 697.50,684 698.31,684 699.12,476 699.94,684 700.75,651 701.56,684 702.38,684 703.19,684 704.00,684 704.81,684 705.62,710 706.44,710 707.25,710 708.06,593 708.88,593 709.69,593 710.50,509 711.31,710 712.12,710 712.94,710 713.75,742 714.56,742 715.38,684 716.19,684 717.00,684 717.81,651 718.62,593 719.44,651 720.25,651 721.06,567 721.88,684 722.69,651 723.50,625 724.31,651 725.12,651 725.94,651 726.75,651 727.56,684 728.38,684 729.19,651 730.00,651 730.81,684 731.62,684 732.44,509 733.25,684 734.06,625 734.88,651 735.69,710 736.50,710 737.31,710 738.12,710 738.94,476 739.75,684 740.56,710 741.38,710 742.19,651 743.00,535 743.81,710 744.62,710 745.44,684 746.25,710 747.06,651 747.88,651 748.69,651 749.50,651 750.31,651 751.12,684 751.94,684 752.75,567 753.56,684 754.38,684 755.19,567 756.00,651 756.81,710 757.62,710 758.44,651 759.25,684 760.06,710 760.88,710 761.69,710 762.50,710 763.31,710 764.12,684 764.94,684 765.75,684 766.56,710 767.38,710 768.19,593 769.00,710 769.81,684 770.62,476 771.44,684 772.25,567 773.06,684 773.88,684 774.69,710 775.50,567 776.31,710 777.12,710 777.94,567 778.75,710 779.56,710 780.38,710 781.19,535 782.00,742 782.81,651 783.62,684 784.44,625 785.25,567 786.06,651 786.88,710 787.69,710 788.50,710 789.31,710 790.12,710 790.94,710 791.75,450 792.56,710 793.38,710 794.19,509 795.00,710 795.81,710 796.62,593 797.44,710 798.25,710 799.06,710 799.88,710 800.69,710 801.50,684 802.31,684 803.12,710 803.94,684 804.75,710 805.56,684 806.38,535 807.19,684 808.00,710 808.81,651 809.62,742 810.44,710 811.25,684 812.06,684 812.88,710 813.69,710 814.50,710 815.31,684 816.12,684 816.94,509 817.75,710 818.56,684 819.38,476 820.19,710 821.00,476 821.81,710 822.62,710 823.44,509 824.25,684 825.06,684 825.88,710 826.69,684 827.50,651 828.31,710 829.12,710 829.94,710 830.75,710 831.56,710 832.38,710 833.19,418 834.00,684 834.81,684 835.62,450 836.44,684 837.25,684 838.06,710 838.88,651 839.69,651 840.50,684 841.31,710 842.12,710 842.94,710 843.75,710 844.56,684 845.38,684 846.19,684 847.00,509 847.81,684 848.62,684 849.44,684 850.25,684 851.06,684 851.88,684 852.69,684 853.50,651 854.31,742 855.12,509 855.94,684 856.75,710 857.56,710 858.38,710 859.19,710 860.00,710 860.81,684 861.62,710 862.44,651 863.25,684 864.06,684 864.88,567 865.69,684 866.50,684 867.31,651 868.12,710 868.94,625 869.75,593 870.56,684 871.38,593 872.19,710 873.00,710 873.81,625 874.62,651 875.44,684 876.25,684 877.06,684 877.88,710 878.69,710 879.50,651 880.31,684 881.12,476 881.94,684 882.75,684 883.56,710 884.38,710 885.19,710 886.00,509 886.81,684 887.62,684 888.44,710 889.25,710 890.06,450 890.88,710 891.69,684 892.50,684 893.31,684 894.12,509 894.94,684 895.75,651 896.56,651 897.38,710 898.19,710 899.00,710 899.81,684 900.62,710 901.44,710 902.25,710 903.06,710 903.88,710 904.69,710 905.50,710 906.31,567 907.12,625 907.94,684 908.75,509 909.56,710 910.38,710 911.19,625 912.00,651 912.81,651 913.62,710 914.44,710 915.25,684 916.06,509 916.88,684 917.69,593 918.50,651 919.31,625 920.12,684 920.94,476 921.75,684 922.56,651 923.38,684 924.19,710 925.00,509 925.81,710 926.62,710 927.44,684 928.25,684 929.06,684 929.88,684 930.69,684 931.50,684 932.31,710 933.12,710 933.94,710 934.75,509 935.56,710 936.38,710 937.19,710 938.00,710 938.81,710 939.62,710 940.44,535 941.25,710 942.06,684 942.88,684 943.69,684 944.50,651 945.31,710 946.12,710 946.94,710 947.75,684 948.56,684 949.38,651 950.19,651 951.00,710 951.81,684 952.62,535 953.44,651 954.25,625 955.06,710 955.88,710 956.69,651 957.50,684 958.31,567 959.12,684 959.94,567 960.75,651 961.56,567 962.38,684 963.19,593 964.00,567 964.81,625 965.62,567 966.44,710 967.25,625 968.06,710 968.88,710 969.69,567 970.50,684 971.31,684 972.12,710 972.94,710 973.75,625 974.56,710 975.38,684 976.19,625 977.00,684 977.81,684 978.62,710 979.44,710 980.25,651 981.06,651 981.88,651 982.69,593 983.50,651 984.31,651 985.12,684 985.94,684 986.75,509 987.56,684 988.38,710 989.19,710 990.00,710 990.81,710 991.62,710 992.44,684 993.25,684 994.06,710 994.88,684 995.69,684 996.50,625 997.31,742 998.12,742 998.94,742 999.75,742 1000.56,625 1001.38,710 1002.19,710 1003.00,710 1003.81,684 1004.62,684 1005.44,684 1006.25,684 1007.06,710 1007.88,710 1008.69,710 1009.50,710 1010.31,710 1011.12,710 1011.94,742 1012.75,742 1013.56,742 1014.38,684 1015.19,684 1016.00,684 1016.81,593 1017.62,567 1018.44,567 1019.25,710 1020.06,684 1020.88,684 1021.69,593 1022.50,651 1023.31,684 1024.12,684 1024.94,684 1025.75,742 1026.56,651 1027.38,684 1028.19,593 1029.00,684 1029.81,593 1030.62,742 1031.44,710 1032.25,710 1033.06,710 1033.88,742 1034.69,710 1035.50,710 1036.31,710 1037.12,710 1037.94,710 1038.75,710 1039.56,710 1040.38,767 1041.19,710 1042.00,710 1042.81,710 1043.62,710 1044.44,767 1045.25,710 1046.06,710 1046.88,710 1047.69,742 1048.50,742 1049.31,742 1050.12,710 1050.94,710 1051.75,710 1052.56,742 1053.38,710 1054.19,710 1055.00,710 1055.81,710 1056.62,710 1057.44,742 1058.25,742 1059.06,742 1059.88,742 1060.69,742 1061.50,767 1062.31,767 1063.12,767 1063.94,742 1064.75,742 1065.56,742 1066.38,742 1067.19,742 1068.00,742 1068.81,742 1069.62,742 1070.44,710 1071.25,710 1072.06,767 1072.88,710 1073.69,767 1074.50,710 1075.31,767 1076.12,767 1076.94,767 1077.75,742 1078.56,742 1079.38,767 1080.19,767 1081.00,767 1081.81,742 1082.62,742 1083.44,767 1084.25,767 1085.06,767 1085.88,767 1086.69,767 1087.50,767 1088.31,710 1089.12,767 1089.94,767 1090.75,767 1091.56,767 1092.38,767 1093.19,767 1094.00,767 1094.81,767 1095.62,767 1096.44,767 1097.25,767 1098.06,767 1098.88,767 1099.69,767 1100.50,742 1101.31,710 1102.12,767 1102.94,742 1103.75,767 1104.56,710 1105.38,767 1106.19,742 1107.00,710 1107.81,710 1108.62,710 1109.44,710 1110.25,767 1111.06,742 1111.88,767 1112.69,767 1113.50,742 1114.31,710 1115.12,742 1115.94,710 1116.75,710 1117.56,742 1118.38,742 1119.19,767 1120.00,742 1120.81,710 1121.62,742 1122.44,767 1123.25,710 1124.06,710 1124.88,767 1125.69,710 1126.50,767 1127.31,742 1128.12,710 1128.94,710 1129.75,684 1130.56,767 1131.38,742 1132.19,767 1133.00,767 1133.81,767 1134.62,767 1135.44,742 1136.25,742 1137.06,710 1137.88,767 1138.69,742 1139.50,742 1140.31,767 1141.12,767 1141.94,767 1142.75,767 1143.56,710 1144.38,710 1145.19,710 1146.00,710 1146.81,710 1147.62,742 1148.44,742 1149.25,767 1150.06,710 1150.88,710 1151.69,767 1152.50,742 1153.31,767 1154.12,742 1154.94,710 1155.75,710 1156.56,710 1157.38,684 1158.19,710 1159.00,710 1159.81,742 1160.62,767 1161.44,767 1162.25,767 1163.06,767 1163.88,767 1164.69,767 1165.50,767 1166.31,767 1167.12,767 1167.94,767 1168.75,767 1169.56,742 1170.38,742 1171.19,767 1172.00,710 1172.81,710 1173.62,710 1174.44,767 1175.25,710 1176.06,767 1176.88,767 1177.69,767 1178.50,767 1179.31,767 1180.12,767 1180.94,767 1181.75,767 1182.56,767 1183.38,767 1184.19,767 1185.00,710 1185.81,710 1186.62,710 1187.44,710 1188.25,710 1189.06,710 1189.88,767 1190.69,742 1191.50,767 1192.31,767 1193.12,767 1193.94,767 1194.75,767 1195.56,767 1196.38,767 1197.19,767 1198.00,767 1198.81,767 1199.62,767 1200.44,767 1201.25,767 1202.06,767 1202.88,767 1203.69,767 1204.50,767 1205.31,767 1206.12,767 1206.94,767 1207.75,767 1208.56,767 1209.38,767 1210.19,767 1211.00,767 1211.81,767 1212.62,767 1213.44,767 1214.25,767 1215.06,710 1215.88,742 1216.69,767 1217.50,710 1218.31,742 1219.12,767 1219.94,710 1220.75,742 1221.56,710 1222.38,710 1223.19,767 1224.00,710 1224.81,767 1225.62,742 1226.44,767 1227.25,767 1228.06,710 1228.88,767 1229.69,767 1230.50,767 1231.31,767 1232.12,767 1232.94,767 1233.75,767 1234.56,767 1235.38,767 1236.19,767 1237.00,767 1237.81,767 1238.62,710 1239.44,710 1240.25,767 1241.06,767 1241.88,767 1242.69,767 1243.50,767 1244.31,710 1245.12,742 1245.94,767 1246.75,767 1247.56,767 1248.38,767 1249.19,767 1250.00,767 1250.81,767 1251.62,767 1252.44,767 1253.25,767 1254.06,767 1254.88,767 1255.69,767 1256.50,767 1257.31,767 1258.12,767 1258.94,767 1259.75,767 1260.56,767 1261.38,767 1262.19,767 1263.00,767 1263.81,767 1264.62,767 1265.44,767 1266.25,767 1267.06,767 1267.88,767 1268.69,767 1269.50,767 1270.31,767 1271.12,767 1271.94,767 1272.75,767 1273.56,767 1274.38,767 1275.19,767 1276.00,767 1276.81,767 1277.62,767 1278.44,767 1279.25,767 1280.06,767 1280.88,767 1281.69,767 1282.50,767 1283.31,767 1284.12,767 1284.94,767 1285.75,767 1286.56,767 1287.38,767 1288.19,767 1289.00,767 1289.81,767 1290.62,767 1291.44,767 1292.25,767 1293.06,767 1293.88,767 1294.69,767 1295.50,767 1296.31,767 1297.12,767 1297.94,767 1298.75,742 1299.56,767 1300.38,710 1301.19,710 1302.00,710 1302.81,767 1303.62,767 1304.44,767 1305.25,710 1306.06,767 1306.88,710 1307.69,767 1308.50,767 1309.31,767 1310.12,767 1310.94,767 1311.75,767 1312.56,767 1313.38,767 1314.19,767 1315.00,767 1315.81,767 1316.62,767 1317.44,767 1318.25,767 1319.06,767 1319.88,742 1320.69,767 1321.50,767" fill="none" stroke="#8000FF" stroke-width="1" shape-rendering="crispEdges"/>
<polyline points="151.0,767 155.2,767 157.0,742 166.6,742 166.9,767 172.7,767 175.3,742 199.8,742 200.6,710 201.5,742 208.5,742 210.2,710 219.8,710 221.6,684 223.3,710 227.7,710 228.6,684 232.1,684 232.9,651 236.4,651 237.3,684 239.0,684 240.8,710 242.5,710 243.4,684 248.6,684 249.5,710 254.7,710 256.5,742 259.1,742 260.9,710 263.5,684 266.1,684 267.0,710 270.5,710 272.2,742 273.1,710 280.1,710 281.8,684 290.5,684 292.3,651 299.3,651 300.1,684 301.9,651 315.9,651 317.6,684 320.2,710 327.2,710 328.1,742 343.8,742 344.7,767 589.0,767 589.9,742 592.5,742 593.4,767 622.2,767 623.1,742 627.4,742 629.2,710 632.6,710 634.4,742 640.5,742 642.2,710 644.8,710 645.7,684 647.5,684 648.3,710 649.2,684 665.8,684 667.5,710 669.3,742 685.9,742 687.6,710 691.1,710 692.0,684 709.4,684 711.2,710 722.5,710 724.3,742 731.3,742 733.0,710 737.4,710 738.2,684 741.7,684 744.4,710 746.1,684 748.7,710 750.5,710 755.7,710 757.4,684 759.2,684 760.9,710 764.4,710 765.3,742 768.8,742 769.7,710 785.4,710 787.1,684 788.9,710 791.5,684 793.2,651 794.1,684 798.5,684 800.2,710 808.1,710 808.9,684 809.8,710 817.7,710 819.4,684 825.5,684 827.3,710 833.4,710 836.0,684 838.6,651 841.2,651 843.0,710 875.3,710 877.0,684 881.3,684 881.9,651 882.6,684 897.1,684 898.8,710 909.3,710 911.0,684 930.2,684 932.0,710 937.2,710 938.1,684 939.8,710 941.6,684 943.3,684 945.1,710 952.1,710 953.8,684 961.7,684 963.4,710 965.1,710 966.9,742 974.7,742 976.5,710 978.2,742 981.7,742 983.5,710 984.4,742 985.2,710 988.7,684 991.3,684 993.1,710 994.8,710 996.6,742 1013.2,742 1014.9,710 1031.5,710 1032.4,742 1055.1,742 1055.4,767 1145.5,767 1146.3,742 1147.9,742 1148.7,767 1157.5,767 1159.2,742 1165.6,742 1166.4,767 1222.0,767 1222.8,742 1223.6,767 1320.0,767" fill="none" stroke="#000" stroke-width="1" shape-rendering="crispEdges"/>
<polyline points="150.0,306.9 180.1,307.4 190.8,306.3 220.9,305.2 234.9,303.5 248.9,302.0 259.6,299.8 270.4,301.4 278.9,303.1 296.1,303.5 300.4,305.2 311.2,303.5 326.2,304.8 334.8,306.7 345.6,307.8 356.3,305.2 373.5,305.2 382.1,305.7 395.0,304.1 407.9,302.6 425.1,299.8 440.0,299.2 461.5,297.7 472.2,295.5 487.3,290.8 493.7,289.3 510.9,288.0 517.4,288.7 534.6,288.0 560.4,287.0 573.2,284.8 577.5,284.8 590.4,283.7 605.5,281.1 627.0,280.5 685.0,280.7 689.3,279.9 715.1,280.5 723.7,281.6 730.0,281.6 768.7,281.6 785.9,283.3 794.5,283.3 802.0,281.6 807.4,285.4 811.7,286.5 824.6,287.4 833.2,288.7 858.9,289.7 867.5,289.7 880.4,288.5 897.6,289.7 899.8,291.3 914.8,290.2 919.1,291.9 944.9,290.6 951.4,291.9 975.0,290.8 981.5,289.1 992.2,289.1 996.5,289.7 1013.7,289.1 1020.0,287.6 1022.3,286.3 1025.4,283.7 1041.5,281.5 1063.0,276.8 1084.4,274.0 1095.2,269.7 1110.2,267.6 1123.1,264.4 1140.3,262.6 1153.2,260.1 1170.3,257.9 1191.8,256.8 1202.6,255.3 1221.9,254.7 1228.3,255.8 1236.9,254.7 1245.5,252.6 1254.1,250.0 1264.8,251.0 1272.4,250.4 1279.9,248.9 1294.9,248.3 1307.8,246.1 1314.2,245.7 1322.0,246.8" fill="none" stroke="#00F838" stroke-width="2" stroke-linejoin="round" shape-rendering="crispEdges"/>
<polyline points="151.7,206.1 156.4,205.5 160.7,201.2 162.9,194.7 169.3,192.2 191.9,192.2 195.1,187.9 199.4,191.5 209.1,191.9 214.5,198.0 217.7,199.0 226.3,199.0 229.5,204.4 232.7,205.9 300.4,205.9 308.0,200.1 312.3,199.0 334.8,199.0 340.2,193.2 344.5,192.6 352.0,186.8 357.4,185.1 361.7,177.5 369.2,170.0 371.4,166.8 375.7,164.2 381.0,163.1 389.6,163.1 391.8,160.8 395.0,159.3 402.5,156.1 419.7,156.1 422.9,151.8 429.4,148.1 433.7,148.5 439.1,148.5 442.3,144.2 445.4,142.1 446.6,142.1 503.4,142.1 505.5,138.9 510.9,134.6 518.4,133.9 533.5,133.9 536.7,130.3 544.2,127.0 571.1,127.0 574.3,122.7 580.8,119.9 589.8,119.9 591.5,126.0 594.7,138.9 596.9,151.8 599.0,162.5 603.3,168.9 604.4,184.0 607.2,192.6 608.7,207.6 611.9,218.4 616.2,240.1 618.4,242.9 623.8,262.2 625.9,273.0 627.0,280.5 630.2,287.0 634.5,285.9 638.8,287.0 642.0,292.3 647.4,300.9 650.6,309.5 652.8,316.0 657.1,319.2 660.3,328.9 663.5,328.9 667.8,335.3 672.1,331.0 675.3,328.9 680.7,324.6 685.0,327.8 691.5,339.6 699.0,342.8 701.1,352.5 706.5,363.2 709.7,374.0 712.9,367.5 719.4,358.9 725.8,352.5 732.3,356.8 734.3,356.8 739.7,361.5 742.9,356.8 747.2,353.6 750.4,351.4 751.5,358.9 756.9,363.2 764.4,360.0 766.5,365.4 769.8,371.8 771.9,380.4 773.0,393.3 775.1,400.9 779.4,400.9 781.6,396.6 783.7,399.8 789.1,406.2 794.5,401.9 798.8,401.9 803.1,398.7 805.2,403.0 808.4,400.2 811.7,400.4 813.8,404.1 818.1,406.2 822.4,407.3 826.7,393.3 831.0,383.7 833.2,382.6 835.3,388.0 839.6,390.1 843.9,400.9 849.3,408.4 853.6,410.5 855.7,414.8 861.1,419.1 866.5,420.2 870.8,413.8 874.0,419.1 878.3,420.2 882.6,409.5 884.7,413.8 888.0,418.1 893.3,413.8 897.6,411.6 901.9,403.0 905.2,401.9 909.5,408.4 914.8,405.2 919.1,405.2 925.6,410.5 932.0,413.8 936.3,411.6 940.6,409.5 949.2,407.3 952.4,400.9 957.8,405.2 963.2,400.9 970.7,394.4 975.0,398.7 979.3,399.8 983.6,406.2 986.8,407.3 990.0,400.9 998.6,399.8 1004.0,395.9 1009.4,394.0 1013.7,394.4 1016.9,399.8 1020.0,399.7 1020.1,400.9 1024.3,405.0 1025.5,406.2 1029.7,407.8 1034.0,407.2 1037.2,403.5 1041.5,399.7 1044.7,395.4 1045.8,390.7 1050.1,392.2 1054.4,383.6 1057.6,373.9 1059.7,367.5 1061.9,358.9 1064.0,352.4 1067.3,346.0 1071.5,336.3 1075.8,333.1 1082.3,320.2 1086.6,315.9 1093.0,306.2 1094.1,302.0 1099.5,299.8 1108.1,298.7 1110.2,285.8 1112.4,278.3 1116.6,271.9 1120.9,266.5 1125.2,264.4 1128.5,257.9 1137.1,256.2 1143.5,248.3 1146.7,247.2 1153.2,242.9 1163.9,241.8 1168.2,238.6 1174.6,235.4 1187.5,234.3 1194.0,229.0 1197.2,227.9 1203.6,227.9 1206.9,223.6 1210.1,221.5 1214.4,216.8 1218.7,214.0 1223.0,213.5 1227.3,208.6 1231.6,206.9 1239.1,205.8 1244.4,202.2 1248.7,195.7 1252.0,198.3 1255.2,195.7 1258.4,192.9 1262.7,191.8 1282.0,191.8 1285.2,187.8 1290.6,185.0 1320.7,185.0" fill="none" stroke="#7C3A00" stroke-width="2" stroke-linejoin="round" shape-rendering="crispEdges"/>
<polyline points="150.0,643.4 171.5,643.4 193.0,641.3 201.6,638.0 214.5,633.7 223.1,632.7 257.5,633.3 266.1,632.7 270.4,633.7 300.4,635.9 309.0,636.3 321.9,637.6 328.4,640.2 337.0,644.5 345.6,650.9 352.0,656.3 360.6,660.6 373.5,662.7 382.1,666.0 392.9,668.1 401.5,670.3 410.0,674.6 418.6,677.8 433.7,679.3 440.0,679.3 457.2,678.9 472.2,681.0 483.0,683.2 495.9,687.5 504.5,688.5 526.0,687.5 536.7,684.9 547.5,682.7 558.2,679.9 568.9,677.8 577.5,672.4 586.1,661.7 592.6,648.8 601.2,640.2 611.9,631.6 618.4,628.4 623.8,628.4 629.1,631.6 635.6,632.2 642.0,631.6 648.5,630.5 652.8,632.7 659.2,635.4 665.7,634.2 672.1,637.0 677.5,639.7 682.9,638.0 690.4,638.5 695.7,634.8 700.0,629.9 705.4,631.6 710.8,637.0 717.2,642.3 723.7,643.4 730.0,647.7 730.1,646.6 740.7,653.1 750.4,648.3 753.6,653.1 762.2,652.6 769.8,645.5 775.1,661.7 780.5,659.5 787.0,650.9 794.5,641.3 798.8,644.5 805.2,650.9 811.7,646.6 818.1,639.1 824.6,643.4 833.2,641.3 841.8,637.0 846.1,638.0 854.7,644.5 863.2,648.8 871.8,644.5 878.3,649.8 884.7,643.4 893.3,650.9 897.6,653.1 906.2,646.6 912.7,652.0 923.4,650.9 936.3,648.3 944.9,648.8 953.5,649.2 960.0,653.1 970.7,648.8 977.2,653.1 985.7,661.7 996.5,663.8 1005.1,661.7 1011.5,662.1 1020.0,672.4 1020.1,670.3 1028.6,678.8 1034.0,682.0 1041.5,680.5 1045.8,679.9 1050.1,683.1 1056.5,679.4 1065.1,677.7 1073.7,680.3 1084.4,682.7 1095.2,686.7 1107.0,694.9 1114.5,690.2 1120.9,690.6 1127.4,692.1 1138.1,696.0 1148.9,698.1 1159.6,699.2 1170.3,699.2 1181.1,701.3 1191.8,703.5 1202.6,706.7 1213.3,706.3 1224.0,707.1 1234.8,707.1 1245.5,708.4 1256.3,707.4 1267.0,707.8 1275.6,708.9 1284.2,708.2 1294.9,705.6 1305.7,702.0 1314.2,697.1 1320.7,693.8" fill="none" stroke="#007840" stroke-width="2" stroke-linejoin="round" shape-rendering="crispEdges"/>
<polyline points="147.4,589.2 156.0,592.4 165.7,595.7 173.2,594.2 190.4,594.2 199.0,589.2 211.9,583.2 220.5,581.0 233.4,579.5 261.3,579.1 276.3,581.0 297.8,582.1 310.7,585.6 321.5,587.1 325.8,589.2 334.4,595.5 343.0,604.1 353.7,612.7 362.3,621.3 370.9,625.6 383.8,629.9 394.6,635.3 405.3,639.6 418.2,645.0 433.2,648.8 437.4,649.7 458.9,650.3 480.4,654.6 491.1,657.9 506.2,661.1 523.4,661.1 540.6,658.9 551.3,656.2 566.3,653.6 574.9,648.2 583.5,639.6 590.0,627.8 596.4,606.3 600.7,589.1 602.9,583.8 609.3,568.8 615.8,555.9 624.4,544.1 628.7,543.0 635.1,543.0 643.7,535.5 650.2,531.2 654.5,528.0 664.1,522.6 669.5,528.0 674.9,530.8 680.3,529.0 686.7,525.8 693.1,517.2 698.5,506.5 705.0,501.1 709.3,506.5 714.6,515.1 718.9,520.4 727.4,524.7 727.5,523.2 736.0,526.9 743.5,527.5 748.9,526.9 760.7,525.4 762.9,519.4 766.1,512.9 769.3,510.8 774.7,513.3 779.0,508.6 784.4,497.9 789.7,489.3 796.2,495.7 802.6,501.7 809.1,496.8 816.6,483.9 822.0,491.4 828.4,502.2 834.9,495.7 843.5,486.0 856.3,487.1 871.4,485.0 877.8,488.2 884.3,486.0 890.7,493.6 895.0,498.9 901.5,496.8 905.8,493.6 912.2,498.9 918.7,497.9 929.4,491.4 934.8,491.4 942.3,494.6 957.4,502.2 970.3,502.6 977.8,505.4 985.3,509.7 991.7,514.0 998.2,515.1 1006.8,516.8 1013.2,519.4 1017.4,521.4 1019.7,523.7 1026.0,526.8 1036.7,532.2 1045.3,540.8 1056.1,549.4 1063.6,560.1 1073.2,570.8 1081.8,581.6 1090.4,590.2 1090.4,591.2 1099.0,597.7 1103.3,602.0 1107.6,605.2 1111.9,609.5 1116.2,611.7 1122.6,617.0 1124.8,618.1 1131.2,622.4 1146.3,629.9 1157.0,633.1 1167.7,635.3 1178.5,638.5 1189.2,642.8 1200.0,646.0 1210.7,650.3 1221.4,653.5 1232.2,656.1 1245.1,659.5 1257.9,660.4 1273.0,662.1 1290.2,662.1 1300.9,657.8 1309.5,653.5 1318.1,649.2" fill="none" stroke="#FF8000" stroke-width="1" stroke-linejoin="round" shape-rendering="crispEdges"/>
<polyline points="150.0,618.3 157.5,615.5 161.8,611.2 166.1,614.8 171.5,615.0 175.8,611.8 183.3,607.9 187.6,611.8 194.1,607.5 199.4,599.3 208.0,598.3 231.7,598.3 239.2,597.2 242.4,591.8 248.9,590.3 262.8,590.3 267.1,595.0 271.4,607.9 291.8,607.9 294.0,605.8 300.4,607.9 321.9,607.9 328.4,618.7 331.6,628.4 338.1,633.7 342.3,640.2 345.6,646.6 353.1,658.4 356.3,660.6 374.6,661.2 378.9,668.1 399.3,669.8 403.6,676.7 413.3,678.9 418.6,685.3 422.9,683.2 431.5,678.9 436.9,685.3 440.0,679.9 442.3,681.0 446.4,683.2 450.7,686.4 457.2,687.5 476.5,688.5 483.0,691.8 487.3,696.1 491.6,693.9 495.9,688.5 513.1,687.5 518.4,679.9 530.3,677.8 534.6,674.6 541.0,671.3 549.6,670.3 552.8,664.9 557.1,661.7 566.8,659.5 571.1,650.9 577.5,641.3 584.0,629.4 588.3,618.7 590.4,607.0 593.7,598.4 595.8,570.4 596.9,544.6 599.0,503.8 602.3,484.5 605.0,460.8 607.6,459.8 609.8,463.0 613.0,460.8 615.2,454.4 618.4,449.0 621.6,445.8 624.8,435.0 627.4,434.0 630.2,443.6 632.3,473.7 635.1,489.8 637.7,482.3 639.9,464.0 643.1,461.9 646.3,429.4 648.9,420.8 651.0,421.3 652.8,448.0 654.9,448.0 656.0,430.0 658.1,397.6 659.2,395.5 661.4,393.3 663.5,378.3 665.6,384.7 667.8,402.0 670.0,430.0 671.0,458.7 677.5,486.6 680.7,463.0 685.0,437.2 688.2,420.0 691.4,393.3 695.7,367.5 700.0,335.3 704.3,320.3 705.8,312.7 707.6,316.0 709.7,346.0 711.9,380.4 714.0,430.0 717.2,465.0 720.5,465.0 725.8,478.0 730.0,488.8 732.3,493.0 734.3,496.3 738.6,499.5 745.0,501.2 748.3,494.1 749.3,492.0 751.5,496.3 754.7,494.1 760.1,494.1 762.2,489.8 763.3,473.7 764.0,441.5 765.5,430.1 768.7,377.2 770.8,384.7 774.1,430.1 776.9,450.1 779.0,441.5 779.9,430.1 782.7,363.2 785.9,322.4 789.7,292.3 792.3,311.7 794.5,350.4 796.6,380.4 799.2,430.1 803.1,456.5 806.3,468.4 810.6,458.7 814.9,438.3 818.1,443.6 822.4,463.0 825.6,480.2 827.8,488.8 831.0,484.5 833.2,473.7 836.4,471.1 839.6,472.7 842.8,474.8 846.1,475.4 848.2,485.5 851.4,490.9 854.7,488.3 858.9,484.5 863.2,488.8 867.5,480.2 870.8,472.7 873.6,478.0 877.2,486.6 880.4,489.8 882.6,484.0 886.9,483.4 890.1,490.9 893.3,501.7 896.6,508.1 899.8,501.7 904.1,490.9 906.2,490.9 909.5,500.6 912.7,508.1 917.0,510.3 933.1,510.3 936.3,503.8 940.6,508.1 946.0,514.6 950.3,514.6 954.6,511.3 957.8,515.6 963.2,517.8 980.4,517.8 981.5,522.1 986.8,527.5 993.3,531.8 998.6,529.6 1002.9,536.1 1008.3,542.5 1013.7,545.7 1018.0,551.1 1020.0,553.2 1022.3,554.3 1027.5,555.3 1027.7,555.4 1030.7,563.9 1036.1,570.3 1041.5,578.9 1044.7,580.0 1046.8,586.5 1052.2,591.8 1054.4,596.1 1055.4,602.6 1056.5,601.5 1058.7,606.9 1060.8,607.9 1063.0,608.6 1064.0,610.1 1066.2,615.4 1068.3,619.7 1073.7,625.1 1076.9,625.1 1078.0,629.4 1084.4,635.8 1088.7,641.2 1094.1,645.5 1097.3,646.6 1101.6,650.9 1105.9,653.0 1108.1,656.2 1112.4,655.2 1114.5,657.3 1119.9,654.1 1125.2,659.5 1136.0,659.9 1141.3,668.1 1146.7,662.7 1153.2,660.5 1161.8,660.5 1166.0,668.1 1174.6,669.8 1176.8,669.8 1183.2,677.7 1200.4,677.7 1204.7,685.2 1209.0,687.4 1214.4,687.4 1217.6,680.9 1221.9,678.8 1226.2,685.2 1232.6,694.9 1236.9,697.1 1244.4,697.1 1247.7,693.8 1252.0,689.5 1256.3,694.9 1262.7,690.6 1267.0,696.0 1273.4,697.1 1277.7,689.5 1284.2,676.6 1290.6,663.8 1294.9,657.3 1299.2,654.1 1305.7,646.6 1312.1,643.4 1318.5,642.3 1320.7,641.2" fill="none" stroke="#FF0000" stroke-width="2" stroke-linejoin="round" shape-rendering="crispEdges"/>
<polyline points="150.0,588.7 158.6,591.9 168.3,595.2 175.8,593.7 193.0,593.7 201.6,588.7 214.5,582.7 223.1,580.5 236.0,579.0 263.9,578.6 278.9,580.5 300.4,581.6 313.3,585.1 324.1,586.6 328.4,588.7 337.0,595.0 345.6,603.6 356.3,612.2 364.9,620.8 373.5,625.1 386.4,629.4 397.2,634.8 407.9,639.1 420.8,644.5 435.8,648.3 440.0,649.2 461.5,649.8 483.0,654.1 493.7,657.4 508.8,660.6 526.0,660.6 543.2,658.4 553.9,655.7 568.9,653.1 577.5,647.7 586.1,639.1 592.6,627.3 599.0,605.8 603.3,588.6 605.5,583.3 611.9,568.3 618.4,555.4 627.0,543.6 631.3,542.5 637.7,542.5 646.3,535.0 652.8,530.7 657.1,527.5 666.7,522.1 672.1,527.5 677.5,530.3 682.9,528.5 689.3,525.3 695.7,516.7 701.1,506.0 707.6,500.6 711.9,506.0 717.2,514.6 721.5,519.9 730.0,524.2 730.1,522.7 738.6,526.4 746.1,527.0 751.5,526.4 763.3,524.9 765.5,518.9 768.7,512.4 771.9,510.3 777.3,512.8 781.6,508.1 787.0,497.4 792.3,488.8 798.8,495.2 805.2,501.2 811.7,496.3 819.2,483.4 824.6,490.9 831.0,501.7 837.5,495.2 846.1,485.5 858.9,486.6 874.0,484.5 880.4,487.7 886.9,485.5 893.3,493.1 897.6,498.4 904.1,496.3 908.4,493.1 914.8,498.4 921.3,497.4 932.0,490.9 937.4,490.9 944.9,494.1 960.0,501.7 972.9,502.1 980.4,504.9 987.9,509.2 994.3,513.5 1000.8,514.6 1009.4,516.3 1015.8,518.9 1020.0,520.9 1022.3,523.2 1028.6,526.3 1039.3,531.7 1047.9,540.3 1058.7,548.9 1066.2,559.6 1075.8,570.3 1084.4,581.1 1093.0,589.7 1093.0,590.7 1101.6,597.2 1105.9,601.5 1110.2,604.7 1114.5,609.0 1118.8,611.2 1125.2,616.5 1127.4,617.6 1133.8,621.9 1148.9,629.4 1159.6,632.6 1170.3,634.8 1181.1,638.0 1191.8,642.3 1202.6,645.5 1213.3,649.8 1224.0,653.0 1234.8,655.6 1247.7,659.0 1260.5,659.9 1275.6,661.6 1292.8,661.6 1303.5,657.3 1312.1,653.0 1320.7,648.7" fill="none" stroke="#0000FF" stroke-width="2" stroke-linejoin="round" shape-rendering="crispEdges"/>
<g fill="none" stroke="#808080" shape-rendering="crispEdges">
<rect x="151" y="48" width="1170" height="720" stroke-width="2"/>
</g>
<line x1="152" y1="767.5" x2="1320" y2="767.5" stroke="#00E0F0" stroke-width="1.2" shape-rendering="crispEdges"/>
<g stroke="#808080" stroke-width="1" shape-rendering="crispEdges">
<line x1="40.5" y1="48" x2="40.5" y2="768"/>
<line x1="36" y1="48.5" x2="45" y2="48.5"/>
<line x1="36" y1="768.5" x2="45" y2="768.5"/>
<line x1="77.5" y1="48" x2="77.5" y2="768"/>
<line x1="73" y1="48.5" x2="82" y2="48.5"/>
<line x1="73" y1="768.5" x2="82" y2="768.5"/>
<line x1="114.5" y1="48" x2="114.5" y2="768"/>
<line x1="110" y1="48.5" x2="119" y2="48.5"/>
<line x1="110" y1="768.5" x2="119" y2="768.5"/>
<line x1="1358.5" y1="48" x2="1358.5" y2="768"/>
<line x1="1354" y1="48.5" x2="1363" y2="48.5"/>
<line x1="1354" y1="768.5" x2="1363" y2="768.5"/>
<line x1="1395.5" y1="48" x2="1395.5" y2="768"/>
<line x1="1391" y1="48.5" x2="1400" y2="48.5"/>
<line x1="1391" y1="768.5" x2="1400" y2="768.5"/>
<line x1="36" y1="48.5" x2="40" y2="48.5"/>
<line x1="36" y1="128.5" x2="40" y2="128.5"/>
<line x1="36" y1="208.5" x2="40" y2="208.5"/>
<line x1="36" y1="288.5" x2="40" y2="288.5"/>
<line x1="36" y1="368.5" x2="40" y2="368.5"/>
<line x1="36" y1="448.5" x2="40" y2="448.5"/>
<line x1="36" y1="528.5" x2="40" y2="528.5"/>
<line x1="36" y1="608.5" x2="40" y2="608.5"/>
<line x1="36" y1="688.5" x2="40" y2="688.5"/>
<line x1="36" y1="768.5" x2="40" y2="768.5"/>
<line x1="73" y1="48.5" x2="77" y2="48.5"/>
<line x1="73" y1="108.5" x2="77" y2="108.5"/>
<line x1="73" y1="168.5" x2="77" y2="168.5"/>
<line x1="73" y1="228.5" x2="77" y2="228.5"/>
<line x1="73" y1="288.5" x2="77" y2="288.5"/>
<line x1="73" y1="348.5" x2="77" y2="348.5"/>
<line x1="73" y1="408.5" x2="77" y2="408.5"/>
<line x1="73" y1="468.5" x2="77" y2="468.5"/>
<line x1="73" y1="528.5" x2="77" y2="528.5"/>
<line x1="73" y1="588.5" x2="77" y2="588.5"/>
<line x1="73" y1="648.5" x2="77" y2="648.5"/>
<line x1="73" y1="708.5" x2="77" y2="708.5"/>
<line x1="73" y1="768.5" x2="77" y2="768.5"/>
<line x1="110" y1="48.5" x2="114" y2="48.5"/>
<line x1="110" y1="138.5" x2="114" y2="138.5"/>
<line x1="110" y1="228.5" x2="114" y2="228.5"/>
<line x1="110" y1="318.5" x2="114" y2="318.5"/>
<line x1="110" y1="408.5" x2="114" y2="408.5"/>
<line x1="110" y1="498.5" x2="114" y2="498.5"/>
<line x1="110" y1="588.5" x2="114" y2="588.5"/>
<line x1="110" y1="678.5" x2="114" y2="678.5"/>
<line x1="110" y1="768.5" x2="114" y2="768.5"/>
<line x1="147" y1="48.5" x2="151" y2="48.5"/>
<line x1="147" y1="228.5" x2="151" y2="228.5"/>
<line x1="147" y1="408.5" x2="151" y2="408.5"/>
<line x1="147" y1="588.5" x2="151" y2="588.5"/>
<line x1="147" y1="768.5" x2="151" y2="768.5"/>
<line x1="1322" y1="48.5" x2="1326" y2="48.5"/>
<line x1="1322" y1="120.5" x2="1326" y2="120.5"/>
<line x1="1322" y1="192.5" x2="1326" y2="192.5"/>
<line x1="1322" y1="264.5" x2="1326" y2="264.5"/>
<line x1="1322" y1="336.5" x2="1326" y2="336.5"/>
<line x1="1322" y1="408.5" x2="1326" y2="408.5"/>
<line x1="1322" y1="480.5" x2="1326" y2="480.5"/>
<line x1="1322" y1="552.5" x2="1326" y2="552.5"/>
<line x1="1322" y1="624.5" x2="1326" y2="624.5"/>
<line x1="1322" y1="696.5" x2="1326" y2="696.5"/>
<line x1="1322" y1="768.5" x2="1326" y2="768.5"/>
<line x1="1359" y1="48.5" x2="1363" y2="48.5"/>
<line x1="1359" y1="228.5" x2="1363" y2="228.5"/>
<line x1="1359" y1="408.5" x2="1363" y2="408.5"/>
<line x1="1359" y1="588.5" x2="1363" y2="588.5"/>
<line x1="1359" y1="768.5" x2="1363" y2="768.5"/>
<line x1="1396" y1="48.5" x2="1400" y2="48.5"/>
<line x1="1396" y1="108.5" x2="1400" y2="108.5"/>
<line x1="1396" y1="168.5" x2="1400" y2="168.5"/>
<line x1="1396" y1="228.5" x2="1400" y2="228.5"/>
<line x1="1396" y1="288.5" x2="1400" y2="288.5"/>
<line x1="1396" y1="348.5" x2="1400" y2="348.5"/>
<line x1="1396" y1="408.5" x2="1400" y2="408.5"/>
<line x1="1396" y1="468.5" x2="1400" y2="468.5"/>
<line x1="1396" y1="528.5" x2="1400" y2="528.5"/>
<line x1="1396" y1="588.5" x2="1400" y2="588.5"/>
<line x1="1396" y1="648.5" x2="1400" y2="648.5"/>
<line x1="1396" y1="708.5" x2="1400" y2="708.5"/>
<line x1="1396" y1="768.5" x2="1400" y2="768.5"/>
<line x1="151.5" y1="769" x2="151.5" y2="773"/>
<line x1="200.5" y1="769" x2="200.5" y2="773"/>
<line x1="249.5" y1="769" x2="249.5" y2="773"/>
<line x1="297.5" y1="769" x2="297.5" y2="773"/>
<line x1="346.5" y1="769" x2="346.5" y2="773"/>
<line x1="395.5" y1="769" x2="395.5" y2="773"/>
<line x1="443.5" y1="769" x2="443.5" y2="773"/>
<line x1="492.5" y1="769" x2="492.5" y2="773"/>
<line x1="541.5" y1="769" x2="541.5" y2="773"/>
<line x1="590.5" y1="769" x2="590.5" y2="773"/>
<line x1="639.5" y1="769" x2="639.5" y2="773"/>
<line x1="687.5" y1="769" x2="687.5" y2="773"/>
<line x1="736.5" y1="769" x2="736.5" y2="773"/>
<line x1="785.5" y1="769" x2="785.5" y2="773"/>
<line x1="833.5" y1="769" x2="833.5" y2="773"/>
<line x1="882.5" y1="769" x2="882.5" y2="773"/>
<line x1="931.5" y1="769" x2="931.5" y2="773"/>
<line x1="980.5" y1="769" x2="980.5" y2="773"/>
<line x1="1029.5" y1="769" x2="1029.5" y2="773"/>
<line x1="1077.5" y1="769" x2="1077.5" y2="773"/>
<line x1="1126.5" y1="769" x2="1126.5" y2="773"/>
<line x1="1175.5" y1="769" x2="1175.5" y2="773"/>
<line x1="1223.5" y1="769" x2="1223.5" y2="773"/>
<line x1="1272.5" y1="769" x2="1272.5" y2="773"/>
<line x1="1320.5" y1="769" x2="1320.5" y2="773"/>
</g>
<text x="33.5" y="52.5" font-size="12" letter-spacing="-0.6" fill="#0000FF" text-anchor="end">35.0</text>
<text x="33.5" y="132.5" font-size="12" letter-spacing="-0.6" fill="#0000FF" text-anchor="end">30.0</text>
<text x="33.5" y="212.5" font-size="12" letter-spacing="-0.6" fill="#0000FF" text-anchor="end">25.0</text>
<text x="33.5" y="292.5" font-size="12" letter-spacing="-0.6" fill="#0000FF" text-anchor="end">20.0</text>
<text x="33.5" y="372.5" font-size="12" letter-spacing="-0.6" fill="#0000FF" text-anchor="end">15.0</text>
<text x="33.5" y="452.5" font-size="12" letter-spacing="-0.6" fill="#0000FF" text-anchor="end">10.0</text>
<text x="33.5" y="532.5" font-size="12" letter-spacing="-0.6" fill="#0000FF" text-anchor="end">5.0</text>
<text x="33.5" y="612.5" font-size="12" letter-spacing="-0.6" fill="#0000FF" text-anchor="end">0.0</text>
<text x="33.5" y="692.5" font-size="12" letter-spacing="-0.6" fill="#0000FF" text-anchor="end">-5.0</text>
<text x="33.5" y="772.5" font-size="12" letter-spacing="-0.6" fill="#0000FF" text-anchor="end">-10.0</text>
<text x="70.5" y="52.5" font-size="12" letter-spacing="-0.6" fill="#00FF40" text-anchor="end">1040</text>
<text x="70.5" y="112.5" font-size="12" letter-spacing="-0.6" fill="#00FF40" text-anchor="end">1035</text>
<text x="70.5" y="172.5" font-size="12" letter-spacing="-0.6" fill="#00FF40" text-anchor="end">1030</text>
<text x="70.5" y="232.5" font-size="12" letter-spacing="-0.6" fill="#00FF40" text-anchor="end">1025</text>
<text x="70.5" y="292.5" font-size="12" letter-spacing="-0.6" fill="#00FF40" text-anchor="end">1020</text>
<text x="70.5" y="352.5" font-size="12" letter-spacing="-0.6" fill="#00FF40" text-anchor="end">1015</text>
<text x="70.5" y="412.5" font-size="12" letter-spacing="-0.6" fill="#00FF40" text-anchor="end">1010</text>
<text x="70.5" y="472.5" font-size="12" letter-spacing="-0.6" fill="#00FF40" text-anchor="end">1005</text>
<text x="70.5" y="532.5" font-size="12" letter-spacing="-0.6" fill="#00FF40" text-anchor="end">1000</text>
<text x="70.5" y="592.5" font-size="12" letter-spacing="-0.6" fill="#00FF40" text-anchor="end">995</text>
<text x="70.5" y="652.5" font-size="12" letter-spacing="-0.6" fill="#00FF40" text-anchor="end">990</text>
<text x="70.5" y="712.5" font-size="12" letter-spacing="-0.6" fill="#00FF40" text-anchor="end">985</text>
<text x="70.5" y="772.5" font-size="12" letter-spacing="-0.6" fill="#00FF40" text-anchor="end">980</text>
<text x="107.5" y="52.5" font-size="12" letter-spacing="-0.6" fill="#000" text-anchor="end">40.0</text>
<text x="107.5" y="142.5" font-size="12" letter-spacing="-0.6" fill="#000" text-anchor="end">35.0</text>
<text x="107.5" y="232.5" font-size="12" letter-spacing="-0.6" fill="#000" text-anchor="end">30.0</text>
<text x="107.5" y="322.5" font-size="12" letter-spacing="-0.6" fill="#000" text-anchor="end">25.0</text>
<text x="107.5" y="412.5" font-size="12" letter-spacing="-0.6" fill="#000" text-anchor="end">20.0</text>
<text x="107.5" y="502.5" font-size="12" letter-spacing="-0.6" fill="#000" text-anchor="end">15.0</text>
<text x="107.5" y="592.5" font-size="12" letter-spacing="-0.6" fill="#000" text-anchor="end">10.0</text>
<text x="107.5" y="682.5" font-size="12" letter-spacing="-0.6" fill="#000" text-anchor="end">5.0</text>
<text x="107.5" y="772.5" font-size="12" letter-spacing="-0.6" fill="#000" text-anchor="end">0.0</text>
<text x="144.5" y="52.5" font-size="12" letter-spacing="-0.6" fill="#FFD800" text-anchor="end">20</text>
<text x="144.5" y="232.5" font-size="12" letter-spacing="-0.6" fill="#FFD800" text-anchor="end">15</text>
<text x="144.5" y="412.5" font-size="12" letter-spacing="-0.6" fill="#FFD800" text-anchor="end">10</text>
<text x="144.5" y="592.5" font-size="12" letter-spacing="-0.6" fill="#FFD800" text-anchor="end">5</text>
<text x="144.5" y="772.5" font-size="12" letter-spacing="-0.6" fill="#FFD800" text-anchor="end">0</text>
<text x="1327.0" y="52.5" font-size="12" letter-spacing="-0.6" fill="#804000" text-anchor="start">100</text>
<text x="1327.0" y="124.5" font-size="12" letter-spacing="-0.6" fill="#804000" text-anchor="start">90</text>
<text x="1327.0" y="196.5" font-size="12" letter-spacing="-0.6" fill="#804000" text-anchor="start">80</text>
<text x="1327.0" y="268.5" font-size="12" letter-spacing="-0.6" fill="#804000" text-anchor="start">70</text>
<text x="1327.0" y="340.5" font-size="12" letter-spacing="-0.6" fill="#804000" text-anchor="start">60</text>
<text x="1327.0" y="412.5" font-size="12" letter-spacing="-0.6" fill="#804000" text-anchor="start">50</text>
<text x="1327.0" y="484.5" font-size="12" letter-spacing="-0.6" fill="#804000" text-anchor="start">40</text>
<text x="1327.0" y="556.5" font-size="12" letter-spacing="-0.6" fill="#804000" text-anchor="start">30</text>
<text x="1327.0" y="628.5" font-size="12" letter-spacing="-0.6" fill="#804000" text-anchor="start">20</text>
<text x="1327.0" y="700.5" font-size="12" letter-spacing="-0.6" fill="#804000" text-anchor="start">10</text>
<text x="1327.0" y="772.5" font-size="12" letter-spacing="-0.6" fill="#804000" text-anchor="start">0</text>
<text x="1364.0" y="52.5" font-size="12" letter-spacing="-0.6" fill="#00D0F0" text-anchor="start">40.0</text>
<text x="1364.0" y="232.5" font-size="12" letter-spacing="-0.6" fill="#00D0F0" text-anchor="start">30.0</text>
<text x="1364.0" y="412.5" font-size="12" letter-spacing="-0.6" fill="#00D0F0" text-anchor="start">20.0</text>
<text x="1364.0" y="592.5" font-size="12" letter-spacing="-0.6" fill="#00D0F0" text-anchor="start">10.0</text>
<text x="1364.0" y="772.5" font-size="12" letter-spacing="-0.6" fill="#00D0F0" text-anchor="start">0.0</text>
<text x="1401.0" y="52.5" font-size="12" letter-spacing="-0.6" fill="#808080" text-anchor="start">360 N</text>
<text x="1401.0" y="112.5" font-size="12" letter-spacing="-0.6" fill="#808080" text-anchor="start">330</text>
<text x="1401.0" y="172.5" font-size="12" letter-spacing="-0.6" fill="#808080" text-anchor="start">300</text>
<text x="1401.0" y="232.5" font-size="12" letter-spacing="-0.6" fill="#808080" text-anchor="start">270 W</text>
<text x="1401.0" y="292.5" font-size="12" letter-spacing="-0.6" fill="#808080" text-anchor="start">240</text>
<text x="1401.0" y="352.5" font-size="12" letter-spacing="-0.6" fill="#808080" text-anchor="start">210</text>
<text x="1401.0" y="412.5" font-size="12" letter-spacing="-0.6" fill="#808080" text-anchor="start">180 S</text>
<text x="1401.0" y="472.5" font-size="12" letter-spacing="-0.6" fill="#808080" text-anchor="start">150</text>
<text x="1401.0" y="532.5" font-size="12" letter-spacing="-0.6" fill="#808080" text-anchor="start">120</text>
<text x="1401.0" y="592.5" font-size="12" letter-spacing="-0.6" fill="#808080" text-anchor="start">90 O</text>
<text x="1401.0" y="652.5" font-size="12" letter-spacing="-0.6" fill="#808080" text-anchor="start">60</text>
<text x="1401.0" y="712.5" font-size="12" letter-spacing="-0.6" fill="#808080" text-anchor="start">30</text>
<text x="1401.0" y="772.5" font-size="12" letter-spacing="-0.6" fill="#808080" text-anchor="start">0 N</text>
<text x="18" y="37" fill="#0000FF">°C</text>
<text x="48" y="37" fill="#00FF40">hPa</text>
<text x="79" y="37" fill="#000">km/h</text>
<text x="125" y="37" fill="#FFD800">min</text>
<text x="1321" y="37" fill="#804000">%</text>
<text x="1358" y="37" fill="#00D0F0">l/m²</text>
<text x="1395" y="37" fill="#808080">°</text>
<rect x="161.5" y="33.5" width="9" height="9" fill="#0000FF" stroke="#000" stroke-width="1" shape-rendering="crispEdges"/>
<text x="176" y="42" fill="#0000FF">Temp. 2m*</text>
<rect x="256.5" y="33.5" width="9" height="9" fill="#FF0000" stroke="#000" stroke-width="1" shape-rendering="crispEdges"/>
<text x="271" y="42" fill="#0000FF">Temp. 5cm*</text>
<rect x="351.5" y="33.5" width="9" height="9" fill="#804000" stroke="#000" stroke-width="1" shape-rendering="crispEdges"/>
<text x="366" y="42" fill="#804000">Feuchte A.*</text>
<rect x="446.5" y="33.5" width="9" height="9" fill="#00F040" stroke="#000" stroke-width="1" shape-rendering="crispEdges"/>
<text x="461" y="42" fill="#00F040">Luftdruck*</text>
<rect x="541.5" y="33.5" width="9" height="9" fill="#00E0F0" stroke="#000" stroke-width="1" shape-rendering="crispEdges"/>
<text x="556" y="42" fill="#00E0F0">Regen*</text>
<rect x="636.5" y="33.5" width="9" height="9" fill="#000000" stroke="#000" stroke-width="1" shape-rendering="crispEdges"/>
<text x="651" y="42" fill="#000">Wind</text>
<rect x="731.5" y="33.5" width="9" height="9" fill="#808080" stroke="#000" stroke-width="1" shape-rendering="crispEdges"/>
<text x="746" y="42" fill="#808080">Richtung*</text>
<rect x="826.5" y="33.5" width="9" height="9" fill="#FFE800" stroke="#000" stroke-width="1" shape-rendering="crispEdges"/>
<text x="841" y="42" fill="#FFE800">Sonnenschein</text>
<rect x="921.5" y="33.5" width="9" height="9" fill="#008040" stroke="#000" stroke-width="1" shape-rendering="crispEdges"/>
<text x="936" y="42" fill="#0000FF">Taupunkt*</text>
<rect x="1016.5" y="33.5" width="9" height="9" fill="#FF8000" stroke="#000" stroke-width="1" shape-rendering="crispEdges"/>
<text x="1031" y="42" fill="#0000FF">Windchill</text>
<rect x="1111.5" y="33.5" width="9" height="9" fill="#8000FF" stroke="#000" stroke-width="1" shape-rendering="crispEdges"/>
<text x="1126" y="42" fill="#000">Windböen</text>
<text x="718" y="21" font-size="16" text-anchor="middle" fill="#000">Sonntag, 16.03.2025</text>
<text x="1430" y="16" font-size="10.7" text-anchor="end" fill="#000">Wetterstation Niedersorpe 440m NN</text>
<text x="151.8" y="786.5" font-size="12" letter-spacing="-0.6" text-anchor="middle" fill="#000">00:00</text>
<text x="200.8" y="786.5" font-size="12" letter-spacing="-0.6" text-anchor="middle" fill="#000">01:00</text>
<text x="249.8" y="786.5" font-size="12" letter-spacing="-0.6" text-anchor="middle" fill="#000">02:00</text>
<text x="297.8" y="786.5" font-size="12" letter-spacing="-0.6" text-anchor="middle" fill="#000">03:00</text>
<text x="346.8" y="786.5" font-size="12" letter-spacing="-0.6" text-anchor="middle" fill="#000">04:00</text>
<text x="395.8" y="786.5" font-size="12" letter-spacing="-0.6" text-anchor="middle" fill="#000">05:00</text>
<text x="443.8" y="786.5" font-size="12" letter-spacing="-0.6" text-anchor="middle" fill="#000">06:00</text>
<text x="492.8" y="786.5" font-size="12" letter-spacing="-0.6" text-anchor="middle" fill="#000">07:00</text>
<text x="541.8" y="786.5" font-size="12" letter-spacing="-0.6" text-anchor="middle" fill="#000">08:00</text>
<text x="590.8" y="786.5" font-size="12" letter-spacing="-0.6" text-anchor="middle" fill="#000">09:00</text>
<text x="639.8" y="786.5" font-size="12" letter-spacing="-0.6" text-anchor="middle" fill="#000">10:00</text>
<text x="687.8" y="786.5" font-size="12" letter-spacing="-0.6" text-anchor="middle" fill="#000">11:00</text>
<text x="736.8" y="786.5" font-size="12" letter-spacing="-0.6" text-anchor="middle" fill="#000">12:00</text>
<text x="785.8" y="786.5" font-size="12" letter-spacing="-0.6" text-anchor="middle" fill="#000">13:00</text>
<text x="833.8" y="786.5" font-size="12" letter-spacing="-0.6" text-anchor="middle" fill="#000">14:00</text>
<text x="882.8" y="786.5" font-size="12" letter-spacing="-0.6" text-anchor="middle" fill="#000">15:00</text>
<text x="931.8" y="786.5" font-size="12" letter-spacing="-0.6" text-anchor="middle" fill="#000">16:00</text>
<text x="980.8" y="786.5" font-size="12" letter-spacing="-0.6" text-anchor="middle" fill="#000">17:00</text>
<text x="1029.8" y="786.5" font-size="12" letter-spacing="-0.6" text-anchor="middle" fill="#000">18:00</text>
<text x="1077.8" y="786.5" font-size="12" letter-spacing="-0.6" text-anchor="middle" fill="#000">19:00</text>
<text x="1126.8" y="786.5" font-size="12" letter-spacing="-0.6" text-anchor="middle" fill="#000">20:00</text>
<text x="1175.8" y="786.5" font-size="12" letter-spacing="-0.6" text-anchor="middle" fill="#000">21:00</text>
<text x="1223.8" y="786.5" font-size="12" letter-spacing="-0.6" text-anchor="middle" fill="#000">22:00</text>
<text x="1272.8" y="786.5" font-size="12" letter-spacing="-0.6" text-anchor="middle" fill="#000">23:00</text>
<text x="1320.8" y="786.5" font-size="12" letter-spacing="-0.6" text-anchor="middle" fill="#000">24:00</text>
<text x="11" y="798" fill="#000">11:55</text>
<path d="M40,797 a5,5 0 0 1 10,0 z" fill="#FFE800"/>
<text x="441" y="798" fill="#000">06:37</text>
<circle cx="475" cy="793" r="4" fill="#FFE800"/>
<text x="503" y="798" fill="#000">07:04</text>
<path d="M492,789 l4,7 l4,-7 z" fill="#E0C000"/>
<text x="1022" y="798" fill="#000">18:33</text>
<rect x="1054.5" y="791.5" width="4" height="4" fill="none" stroke="#FFE800"/>
<text x="1195" y="798" fill="#000">21:17</text>
<path d="M1187,797 l4,-7 l4,7 z" fill="#E0C000"/>
<line x1="473.5" y1="764" x2="473.5" y2="777" stroke="#FFE800" stroke-width="1.6"/>
<line x1="496.5" y1="764" x2="496.5" y2="777" stroke="#808080" stroke-width="1.6"/>
<line x1="1055.5" y1="764" x2="1055.5" y2="777" stroke="#FFE800" stroke-width="1.6"/>
<line x1="1189.5" y1="764" x2="1189.5" y2="777" stroke="#808080" stroke-width="1.6"/>
</g></svg>
<svg width="1432" height="131" viewBox="0 800 1432 131" style="position:absolute;left:0;top:800px">
<g shape-rendering="crispEdges">
<rect x="1" y="800" width="1430" height="90" fill="#FF8000"/>
<rect x="87" y="800" width="1" height="89" fill="#FFFFFF"/>
<rect x="88" y="800" width="1" height="89" fill="#A0A0A0"/>
<rect x="204" y="800" width="1" height="89" fill="#FFFFFF"/>
<rect x="205" y="800" width="1" height="89" fill="#A0A0A0"/>
<rect x="322" y="800" width="1" height="89" fill="#FFFFFF"/>
<rect x="323" y="800" width="1" height="89" fill="#A0A0A0"/>
<rect x="440" y="800" width="1" height="89" fill="#FFFFFF"/>
<rect x="441" y="800" width="1" height="89" fill="#A0A0A0"/>
<rect x="558" y="800" width="1" height="89" fill="#FFFFFF"/>
<rect x="559" y="800" width="1" height="89" fill="#A0A0A0"/>
<rect x="676" y="800" width="1" height="89" fill="#FFFFFF"/>
<rect x="677" y="800" width="1" height="89" fill="#A0A0A0"/>
<rect x="794" y="800" width="1" height="89" fill="#FFFFFF"/>
<rect x="795" y="800" width="1" height="89" fill="#A0A0A0"/>
<rect x="912" y="800" width="1" height="89" fill="#FFFFFF"/>
<rect x="913" y="800" width="1" height="89" fill="#A0A0A0"/>
<rect x="0" y="890" width="1432" height="1" fill="#A0A0A0"/>
<rect x="0" y="891" width="1432" height="1" fill="#FFFFFF"/>
<rect x="1" y="892" width="1430" height="1" fill="#A0A0A0"/>
<rect x="1" y="892" width="1" height="37" fill="#A0A0A0"/>
<rect x="2" y="893" width="1428" height="36" fill="#2CE61C"/>
<rect x="87" y="893" width="1" height="36" fill="#FFFFFF"/>
<rect x="88" y="892" width="1" height="37" fill="#A0A0A0"/>
<rect x="204" y="893" width="1" height="36" fill="#FFFFFF"/>
<rect x="205" y="892" width="1" height="37" fill="#A0A0A0"/>
<rect x="322" y="893" width="1" height="36" fill="#FFFFFF"/>
<rect x="323" y="892" width="1" height="37" fill="#A0A0A0"/>
<rect x="440" y="893" width="1" height="36" fill="#FFFFFF"/>
<rect x="441" y="892" width="1" height="37" fill="#A0A0A0"/>
<rect x="558" y="893" width="1" height="36" fill="#FFFFFF"/>
<rect x="559" y="892" width="1" height="37" fill="#A0A0A0"/>
<rect x="1431" y="800" width="1" height="131" fill="#A0A0A0"/>
<rect x="0" y="930" width="1432" height="1" fill="#A0A0A0"/>
</g>
<g font-family="'Liberation Sans', Arial, sans-serif" font-size="11" fill="#000">
<text x="8.0" y="818.0" font-weight="bold" letter-spacing="0.45">Sensor</text>
<text x="8.0" y="834.0" font-weight="bold" letter-spacing="0.45">MinWert</text>
<text x="8.0" y="850.0" font-weight="bold" letter-spacing="0.45">MaxWert</text>
<text x="8.0" y="866.0" font-weight="bold" letter-spacing="0.45">Durchschnitt</text>
<text x="8.0" y="882.0" font-weight="bold" letter-spacing="0.45">16.03. 23:59</text>
<text x="94.0" y="818.0" font-weight="bold" letter-spacing="0.45">Temp. 2m</text>
<text x="200.0" y="818.0" text-anchor="end" font-weight="bold" letter-spacing="0.45">°C</text>
<text x="101.0" y="834.0">23:01</text>
<text x="199.0" y="834.0" text-anchor="end">-3.4</text>
<text x="101.0" y="850.0">13:38</text>
<text x="199.0" y="850.0" text-anchor="end">8.0</text>
<text x="199.0" y="866.0" text-anchor="end">1.73</text>
<text x="96.0" y="882.0">F: 81 %</text>
<text x="199.0" y="882.0" text-anchor="end" font-weight="bold" letter-spacing="0.45">-2.4</text>
<text x="211.0" y="818.0" font-weight="bold" letter-spacing="0.45">Temp. 5cm</text>
<text x="317.0" y="818.0" text-anchor="end" font-weight="bold" letter-spacing="0.45">°C</text>
<text x="217.0" y="834.0">06:50</text>
<text x="316.0" y="834.0" text-anchor="end">-5.6</text>
<text x="217.0" y="850.0">13:04</text>
<text x="316.0" y="850.0" text-anchor="end">21.4</text>
<text x="316.0" y="866.0" text-anchor="end">1.57</text>
<text x="316.0" y="882.0" text-anchor="end" font-weight="bold" letter-spacing="0.45">-1.7</text>
<text x="329.0" y="818.0" font-weight="bold" letter-spacing="0.45">Feuchte A.</text>
<text x="435.0" y="818.0" text-anchor="end" font-weight="bold" letter-spacing="0.45">%</text>
<text x="337.0" y="834.0">14:28</text>
<text x="434.0" y="834.0" text-anchor="end">47</text>
<text x="336.0" y="850.0">08:38</text>
<text x="434.0" y="850.0" text-anchor="end">90</text>
<text x="434.0" y="866.0" text-anchor="end">70</text>
<text x="331.0" y="882.0">3.32 g/m³</text>
<text x="434.0" y="882.0" text-anchor="end" font-weight="bold" letter-spacing="0.45">81</text>
<text x="447.0" y="818.0" font-weight="bold" letter-spacing="0.45">Regen</text>
<text x="553.0" y="818.0" text-anchor="end" font-weight="bold" letter-spacing="0.45">l/m²</text>
<text x="453.0" y="850.0">00:00</text>
<text x="552.0" y="850.0" text-anchor="end">0.0</text>
<text x="448.0" y="866.0">Gesamt:</text>
<text x="552.0" y="866.0" text-anchor="end">0.0</text>
<text x="451.0" y="882.0">0.0 l/m²</text>
<text x="552.0" y="882.0" text-anchor="end" font-weight="bold" letter-spacing="0.45">0.0</text>
<text x="565.0" y="818.0" font-weight="bold" letter-spacing="0.45">Luftdruck</text>
<text x="671.0" y="818.0" text-anchor="end" font-weight="bold" letter-spacing="0.45">hPa</text>
<text x="571.0" y="834.0">00:37</text>
<text x="670.0" y="834.0" text-anchor="end">1018.3</text>
<text x="572.0" y="850.0">23:36</text>
<text x="670.0" y="850.0" text-anchor="end">1023.5</text>
<text x="567.0" y="866.0">^1.1hPa/h</text>
<text x="670.0" y="866.0" text-anchor="end">1020.3</text>
<text x="566.0" y="882.0">sonnig</text>
<text x="670.0" y="882.0" text-anchor="end" font-weight="bold" letter-spacing="0.45">1023.5</text>
<text x="683.0" y="818.0" font-weight="bold" letter-spacing="0.45">Sonnenschein</text>
<text x="789.0" y="818.0" text-anchor="end" font-weight="bold" letter-spacing="0.45">min</text>
<text x="690.0" y="850.0">09:01</text>
<text x="788.0" y="850.0" text-anchor="end">1</text>
<text x="683.0" y="866.0">3:34 h</text>
<text x="788.0" y="866.0" text-anchor="end">0</text>
<text x="788.0" y="882.0" text-anchor="end" font-weight="bold" letter-spacing="0.45">0</text>
<text x="801.0" y="818.0" font-weight="bold" letter-spacing="0.45">Windböen</text>
<text x="907.0" y="818.0" text-anchor="end" font-weight="bold" letter-spacing="0.45">km/h</text>
<text x="802.0" y="834.0">Ø 10 min.</text>
<text x="906.0" y="834.0" text-anchor="end">0.1</text>
<text x="808.0" y="850.0">10:23</text>
<text x="906.0" y="850.0" text-anchor="end">S-SO 20.9</text>
<text x="807.0" y="866.0">86.7 km</text>
<text x="906.0" y="866.0" text-anchor="end">3.6</text>
<text x="808.0" y="882.0">1 Bft N</text>
<text x="906.0" y="882.0" text-anchor="end" font-weight="bold" letter-spacing="0.45">1.4</text>
<text x="919.0" y="818.0" font-weight="bold" letter-spacing="0.45">Wind</text>
<text x="1022.0" y="818.0" text-anchor="end" font-weight="bold" letter-spacing="0.45">km/h</text>
<text x="919.0" y="834.0">Ø 10 min.</text>
<text x="1021.0" y="834.0" text-anchor="end">0.0</text>
<text x="924.0" y="850.0">01:40</text>
<text x="1021.0" y="850.0" text-anchor="end">N-NW 6.5</text>
<text x="924.0" y="866.0">86.7 km</text>
<text x="1021.0" y="866.0" text-anchor="end">1.8</text>
<text x="924.0" y="882.0">0 Bft W-NW</text>
<text x="1021.0" y="882.0" text-anchor="end" font-weight="bold" letter-spacing="0.45">0.0</text>
<text x="8.0" y="907.0">Wetterdaten</text>
<text x="8.0" y="923.0">16.03.25 23:59</text>
<text x="94.0" y="907.0">Temp. I.</text>
<text x="198.0" y="907.0" text-anchor="end">17.8 °C</text>
<text x="94.0" y="923.0">Feuchte I.</text>
<text x="198.0" y="923.0" text-anchor="end">37 %</text>
<text x="210.0" y="907.0">Temp. 2m</text>
<text x="316.0" y="907.0" text-anchor="end">-2.4 °C</text>
<text x="210.0" y="923.0">Feuchte A.</text>
<text x="316.0" y="923.0" text-anchor="end">81 %</text>
<text x="329.0" y="907.0">Luftdruck</text>
<text x="434.0" y="907.0" text-anchor="end">1023.5 hPa</text>
<text x="329.0" y="923.0">Regen</text>
<text x="434.0" y="923.0" text-anchor="end">0.0 l/m²</text>
<text x="447.0" y="907.0">Wind</text>
<text x="552.0" y="907.0" text-anchor="end">0.0 km/h</text>
<text x="447.0" y="923.0">Richtung</text>
<text x="552.0" y="923.0" text-anchor="end">W-NW</text>
<text x="1100.0" y="907.0">WR 303°</text>
<text x="1100.0" y="923.0">WC -2.4°C</text>
<text x="1170.0" y="907.0">Solar</text>
<text x="1285.0" y="907.0" text-anchor="end">0 W/m²</text>
<text x="1170.0" y="923.0">ET</text>
<text x="1276.0" y="923.0" text-anchor="end">0.000 mm</text>
<text x="1309.0" y="907.0">UV</text>
<text x="1425.0" y="907.0" text-anchor="end">0.0 UV-I</text>
<text x="1309.0" y="923.0">Taupunkt</text>
<text x="1416.0" y="923.0" text-anchor="end">-5.2 °C</text>
</g>
<defs><linearGradient id="sky" x1="0" y1="0" x2="1" y2="1"><stop offset="0" stop-color="#3A7EC6"/><stop offset="0.6" stop-color="#5A9AD6"/><stop offset="1" stop-color="#A6CFEF"/></linearGradient><radialGradient id="sunc"><stop offset="0" stop-color="#F8F880"/><stop offset="0.6" stop-color="#F2F000"/><stop offset="1" stop-color="#E8E820"/></radialGradient></defs>
<rect x="562" y="894" width="34" height="34" fill="url(#sky)"/>
<rect x="562" y="894" width="34" height="1" fill="#0A1448"/><rect x="562" y="894" width="1" height="34" fill="#0A1448"/>
<polygon points="579.5,896.5 581.5,905 588,899.5 584.5,907 592,910.5 584.5,913.5 588,921.5 581.5,916 579.5,925 577.5,916 571,921.5 574.5,913.5 566,910.5 574.5,907 571,899.5 577.5,905" fill="#D8E860" opacity="0.85"/>
<polygon points="579.5,896.5 582,906 592,910.5 582,915 579.5,925 577,915 566,910.5 577,906" fill="#F0EE10"/>
<circle cx="579.5" cy="910.5" r="6.5" fill="url(#sunc)"/>
<rect x="624" y="872" width="8" height="13" fill="#fff"/>
<path d="M628,873 l-3,4 h2 v8 h2 v-8 h2 z" fill="#000"/>
</svg>
</body></html>
